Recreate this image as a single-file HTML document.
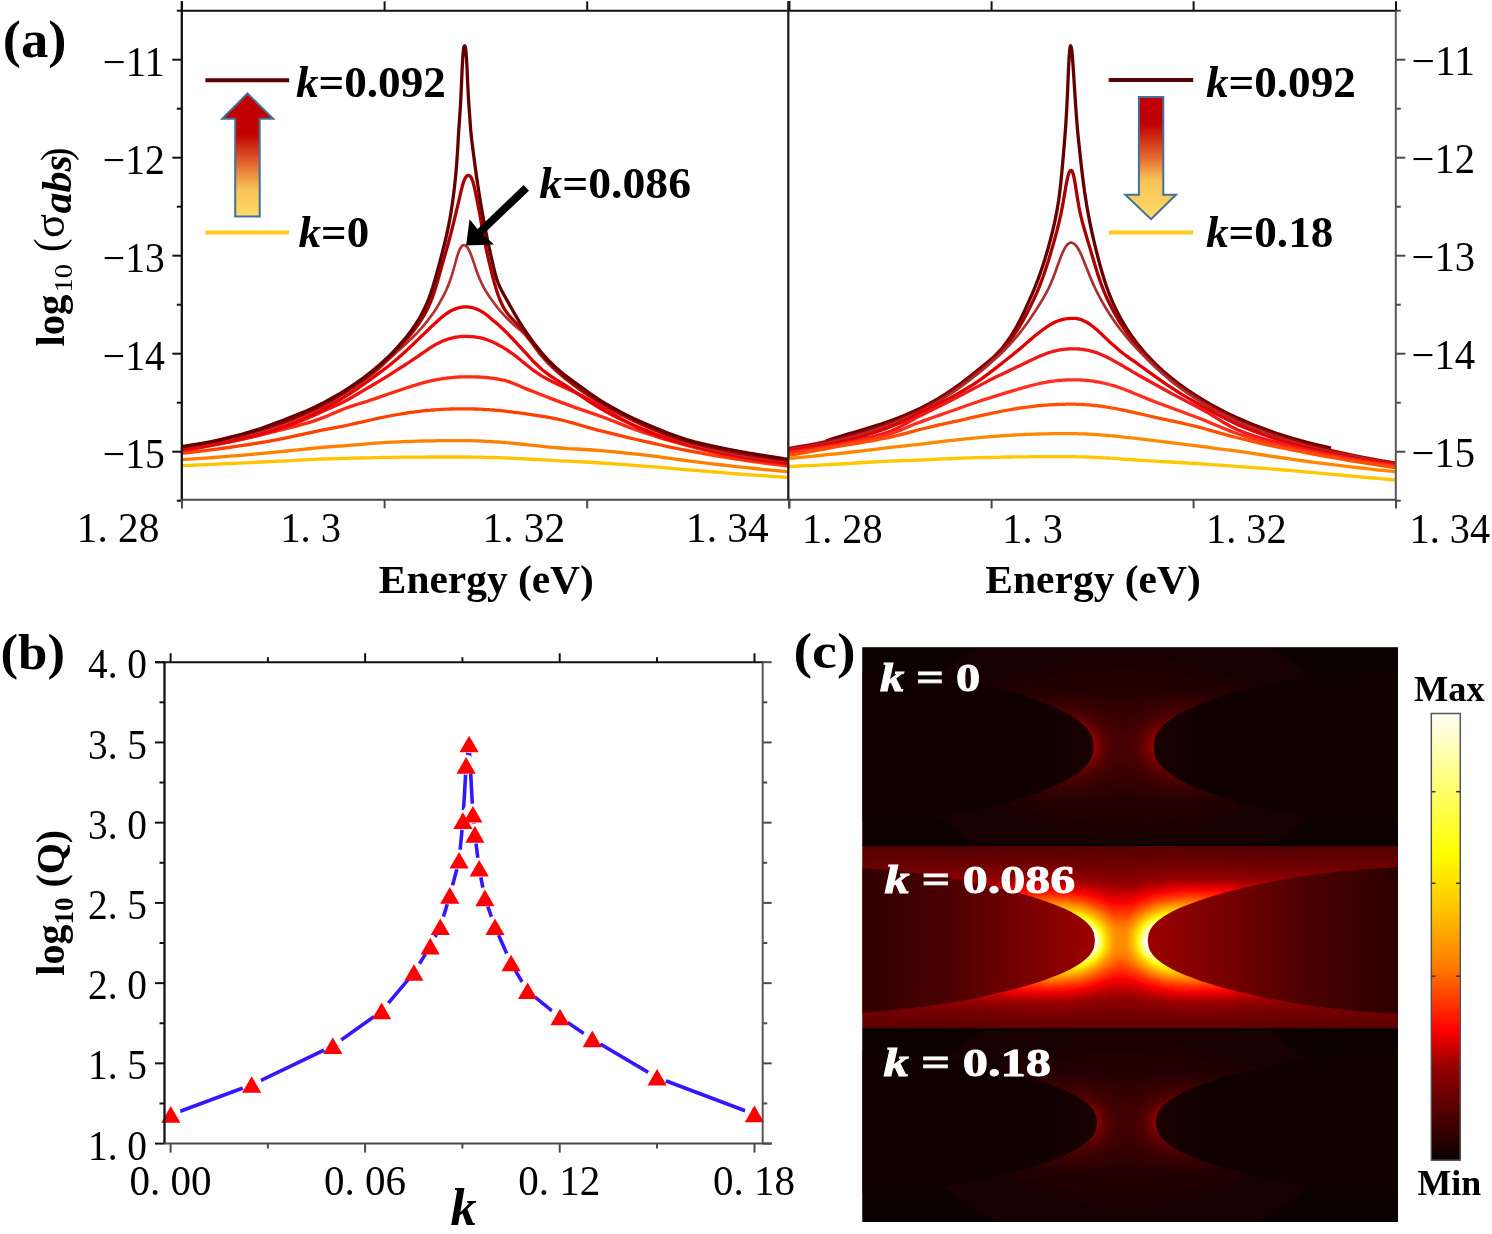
<!DOCTYPE html>
<html><head><meta charset="utf-8"><title>fig</title>
<style>html,body{margin:0;padding:0;background:#fff;width:1492px;height:1234px;overflow:hidden}svg{display:block;will-change:transform}</style>
</head><body>
<svg width="1492" height="1234" viewBox="0 0 1492 1234">
<rect width="1492" height="1234" fill="#fff"/>
<line x1="172.3" y1="59.7" x2="181.8" y2="59.7" stroke="#111" stroke-width="2" />
<line x1="172.3" y1="157.7" x2="181.8" y2="157.7" stroke="#111" stroke-width="2" />
<line x1="172.3" y1="255.7" x2="181.8" y2="255.7" stroke="#111" stroke-width="2" />
<line x1="172.3" y1="353.7" x2="181.8" y2="353.7" stroke="#111" stroke-width="2" />
<line x1="172.3" y1="451.7" x2="181.8" y2="451.7" stroke="#111" stroke-width="2" />
<line x1="176.8" y1="10.7" x2="181.8" y2="10.7" stroke="#111" stroke-width="2" />
<line x1="176.8" y1="108.7" x2="181.8" y2="108.7" stroke="#111" stroke-width="2" />
<line x1="176.8" y1="206.7" x2="181.8" y2="206.7" stroke="#111" stroke-width="2" />
<line x1="176.8" y1="304.7" x2="181.8" y2="304.7" stroke="#111" stroke-width="2" />
<line x1="176.8" y1="402.7" x2="181.8" y2="402.7" stroke="#111" stroke-width="2" />
<line x1="176.8" y1="500.7" x2="181.8" y2="500.7" stroke="#111" stroke-width="2" />
<line x1="1395.8" y1="59.7" x2="1405.3" y2="59.7" stroke="#4a4a4a" stroke-width="2" />
<line x1="1395.8" y1="157.7" x2="1405.3" y2="157.7" stroke="#4a4a4a" stroke-width="2" />
<line x1="1395.8" y1="255.7" x2="1405.3" y2="255.7" stroke="#4a4a4a" stroke-width="2" />
<line x1="1395.8" y1="353.7" x2="1405.3" y2="353.7" stroke="#4a4a4a" stroke-width="2" />
<line x1="1395.8" y1="451.7" x2="1405.3" y2="451.7" stroke="#4a4a4a" stroke-width="2" />
<line x1="1395.8" y1="10.7" x2="1400.8" y2="10.7" stroke="#4a4a4a" stroke-width="2" />
<line x1="1395.8" y1="108.7" x2="1400.8" y2="108.7" stroke="#4a4a4a" stroke-width="2" />
<line x1="1395.8" y1="206.7" x2="1400.8" y2="206.7" stroke="#4a4a4a" stroke-width="2" />
<line x1="1395.8" y1="304.7" x2="1400.8" y2="304.7" stroke="#4a4a4a" stroke-width="2" />
<line x1="1395.8" y1="402.7" x2="1400.8" y2="402.7" stroke="#4a4a4a" stroke-width="2" />
<line x1="1395.8" y1="500.7" x2="1400.8" y2="500.7" stroke="#4a4a4a" stroke-width="2" />
<line x1="182" y1="10.7" x2="182" y2="1.299999999999999" stroke="#111" stroke-width="2" />
<line x1="182" y1="499.8" x2="182" y2="508.40000000000003" stroke="#4a4a4a" stroke-width="2" />
<line x1="384.6" y1="10.7" x2="384.6" y2="1.299999999999999" stroke="#111" stroke-width="2" />
<line x1="384.6" y1="499.8" x2="384.6" y2="508.40000000000003" stroke="#4a4a4a" stroke-width="2" />
<line x1="587.2" y1="10.7" x2="587.2" y2="1.299999999999999" stroke="#111" stroke-width="2" />
<line x1="587.2" y1="499.8" x2="587.2" y2="508.40000000000003" stroke="#4a4a4a" stroke-width="2" />
<line x1="789.0" y1="10.7" x2="789.0" y2="1.299999999999999" stroke="#111" stroke-width="2" />
<line x1="789.0" y1="499.8" x2="789.0" y2="508.40000000000003" stroke="#4a4a4a" stroke-width="2" />
<line x1="789.5" y1="10.7" x2="789.5" y2="1.299999999999999" stroke="#111" stroke-width="2" />
<line x1="789.5" y1="499.8" x2="789.5" y2="508.40000000000003" stroke="#4a4a4a" stroke-width="2" />
<line x1="991.6" y1="10.7" x2="991.6" y2="1.299999999999999" stroke="#111" stroke-width="2" />
<line x1="991.6" y1="499.8" x2="991.6" y2="508.40000000000003" stroke="#4a4a4a" stroke-width="2" />
<line x1="1193.6" y1="10.7" x2="1193.6" y2="1.299999999999999" stroke="#111" stroke-width="2" />
<line x1="1193.6" y1="499.8" x2="1193.6" y2="508.40000000000003" stroke="#4a4a4a" stroke-width="2" />
<line x1="1396.0" y1="10.7" x2="1396.0" y2="1.299999999999999" stroke="#111" stroke-width="2" />
<line x1="1396.0" y1="499.8" x2="1396.0" y2="508.40000000000003" stroke="#4a4a4a" stroke-width="2" />
<g fill="none" stroke-linejoin="round" stroke-linecap="butt">
<clipPath id="clipL"><rect x="182" y="10" width="606" height="490"/></clipPath>
<clipPath id="clipR"><rect x="789" y="10" width="607" height="490"/></clipPath>
<g clip-path="url(#clipL)">
<path d="M182.0,465.6 189.4,465.3 197.5,465.0 205.6,464.6 213.7,464.3 221.8,463.9 229.9,463.5 238.0,463.1 246.1,462.8 254.2,462.4 262.3,462.0 270.4,461.6 278.5,461.2 286.6,460.8 294.7,460.3 302.8,459.9 310.9,459.6 319.0,459.2 327.1,458.9 335.2,458.7 343.3,458.5 351.4,458.2 359.5,458.0 367.6,457.8 375.7,457.6 383.8,457.4 391.9,457.3 400.0,457.2 402.0,457.2 404.0,457.2 406.0,457.2 408.0,457.2 410.0,457.1 412.0,457.1 414.0,457.1 416.0,457.1 418.0,457.1 420.0,457.1 422.0,457.1 424.0,457.1 426.0,457.1 428.0,457.0 430.0,457.0 432.0,457.0 434.0,457.0 436.0,457.0 438.0,457.0 440.0,457.0 442.0,457.0 444.0,457.0 446.0,457.0 448.0,457.0 449.0,457.0 450.0,457.0 451.0,457.0 452.0,457.0 453.0,457.0 454.0,457.0 455.0,457.0 456.0,457.0 457.0,457.0 457.5,457.0 458.0,457.0 458.5,457.0 459.0,457.0 459.5,457.0 460.0,457.0 460.5,457.0 461.0,457.0 461.5,457.0 462.0,457.0 462.5,457.0 463.0,457.0 464.0,457.0 465.0,457.0 466.0,457.0 467.0,457.0 468.0,457.0 469.0,457.0 470.0,457.0 471.0,457.1 472.0,457.1 474.0,457.1 476.0,457.1 478.0,457.2 480.0,457.2 482.0,457.2 484.0,457.3 486.0,457.3 488.0,457.4 490.0,457.4 492.0,457.5 494.0,457.5 496.0,457.6 498.0,457.7 500.0,457.7 502.0,457.8 504.0,457.9 506.0,458.0 508.0,458.1 510.0,458.1 512.0,458.2 514.0,458.3 516.0,458.4 518.0,458.5 520.0,458.6 528.1,459.0 536.2,459.5 544.3,459.9 552.4,460.4 560.5,460.8 568.6,461.2 576.7,461.6 584.8,462.0 592.9,462.5 601.0,463.0 609.1,463.5 617.2,464.1 625.3,464.7 633.4,465.3 641.5,465.9 649.6,466.6 657.7,467.2 665.8,467.9 673.9,468.6 682.0,469.3 690.1,470.0 698.2,470.7 706.3,471.4 714.4,472.0 722.5,472.7 730.6,473.3 738.7,474.0 746.8,474.6 754.9,475.2 763.0,475.7 771.1,476.3 779.2,476.8 787.3,477.3 788.0,477.4" stroke="#ffc300" stroke-width="3.3"/>
<path d="M182.0,459.7 189.4,459.2 197.5,458.7 205.6,458.1 213.7,457.5 221.8,456.9 229.9,456.2 238.0,455.6 246.1,454.9 254.2,454.2 262.3,453.4 270.4,452.7 278.5,451.9 286.6,451.0 294.7,450.1 302.8,449.3 310.9,448.5 319.0,447.7 327.1,447.0 335.2,446.4 343.3,445.8 351.4,445.2 359.5,444.6 367.6,443.9 375.7,443.2 383.8,442.7 391.9,442.2 400.0,441.8 402.0,441.7 404.0,441.6 406.0,441.5 408.0,441.5 410.0,441.4 412.0,441.3 414.0,441.3 416.0,441.2 418.0,441.1 420.0,441.1 422.0,441.0 424.0,441.0 426.0,440.9 428.0,440.9 430.0,440.9 432.0,440.8 434.0,440.8 436.0,440.8 438.0,440.7 440.0,440.7 442.0,440.7 444.0,440.7 446.0,440.7 448.0,440.6 449.0,440.6 450.0,440.6 451.0,440.6 452.0,440.6 453.0,440.6 454.0,440.6 455.0,440.6 456.0,440.6 457.0,440.6 457.5,440.6 458.0,440.6 458.5,440.6 459.0,440.6 459.5,440.6 460.0,440.6 460.5,440.6 461.0,440.6 461.5,440.6 462.0,440.6 462.5,440.6 463.0,440.6 464.0,440.6 465.0,440.6 466.0,440.6 467.0,440.7 468.0,440.7 469.0,440.7 470.0,440.7 471.0,440.7 472.0,440.7 474.0,440.8 476.0,440.9 478.0,440.9 480.0,441.0 482.0,441.1 484.0,441.2 486.0,441.3 488.0,441.4 490.0,441.5 492.0,441.6 494.0,441.8 496.0,441.9 498.0,442.0 500.0,442.2 502.0,442.4 504.0,442.5 506.0,442.7 508.0,442.9 510.0,443.0 512.0,443.2 514.0,443.4 516.0,443.6 518.0,443.8 520.0,444.0 528.1,444.9 536.2,445.7 544.3,446.6 552.4,447.4 560.5,448.0 568.6,448.6 576.7,449.0 584.8,449.5 592.9,450.0 601.0,450.7 609.1,451.4 617.2,452.1 625.3,453.0 633.4,453.8 641.5,454.7 649.6,455.7 657.7,456.7 665.8,457.8 673.9,458.9 682.0,460.0 690.1,461.1 698.2,462.1 706.3,463.1 714.4,464.1 722.5,465.0 730.6,465.9 738.7,466.8 746.8,467.7 754.9,468.5 763.0,469.3 771.1,470.1 779.2,470.9 787.3,471.6 788.0,471.7" stroke="#ff8000" stroke-width="3.3"/>
<path d="M182.0,453.2 184.3,453.0 192.4,452.0 200.5,451.1 208.6,450.1 216.7,449.1 224.8,448.0 232.9,446.9 241.0,445.7 249.1,444.5 257.2,443.2 265.3,441.8 273.4,440.4 281.5,438.8 289.6,437.2 297.7,435.4 305.8,433.6 313.9,431.9 322.0,430.2 330.1,428.7 338.2,427.2 346.3,425.5 354.4,423.7 362.5,421.8 370.6,420.0 378.7,418.2 386.8,416.5 394.9,415.0 403.0,413.6 405.0,413.3 407.0,413.0 409.0,412.7 411.0,412.4 413.0,412.1 415.0,411.9 417.0,411.6 419.0,411.4 421.0,411.1 423.0,410.9 425.0,410.7 427.0,410.5 429.0,410.3 431.0,410.2 433.0,410.0 435.0,409.8 437.0,409.7 439.0,409.6 441.0,409.4 443.0,409.3 445.0,409.2 447.0,409.1 449.0,409.1 451.0,409.0 452.0,409.0 453.0,408.9 454.0,408.9 455.0,408.9 456.0,408.9 457.0,408.8 458.0,408.8 459.0,408.8 460.0,408.8 460.5,408.8 461.0,408.8 461.5,408.8 462.0,408.8 462.5,408.8 463.0,408.8 463.5,408.8 464.0,408.8 464.5,408.8 465.0,408.8 465.5,408.8 466.0,408.8 467.0,408.8 468.0,408.8 469.0,408.8 470.0,408.9 471.0,408.9 472.0,408.9 473.0,408.9 474.0,409.0 475.0,409.0 477.0,409.1 479.0,409.1 481.0,409.2 483.0,409.3 485.0,409.5 487.0,409.6 489.0,409.7 491.0,409.9 493.0,410.0 495.0,410.2 497.0,410.3 499.0,410.5 501.0,410.7 503.0,410.9 505.0,411.1 507.0,411.4 509.0,411.6 511.0,411.8 513.0,412.1 515.0,412.3 517.0,412.6 519.0,412.9 521.0,413.2 523.0,413.4 531.1,414.6 539.2,415.9 547.3,417.2 555.4,418.7 563.5,420.5 571.6,422.7 579.7,425.0 587.8,427.4 595.9,429.6 604.0,431.7 612.1,433.7 620.2,435.7 628.3,437.6 636.4,439.5 644.5,441.4 652.6,443.2 660.7,445.0 668.8,446.8 676.9,448.5 685.0,450.1 693.1,451.7 701.2,453.2 709.3,454.6 717.4,456.0 725.5,457.4 733.6,458.6 741.7,459.9 749.8,461.1 757.9,462.2 766.0,463.3 774.1,464.4 782.2,465.4 788.0,466.1" stroke="#ff4000" stroke-width="3.3"/>
<path d="M182.0,451.0 188.9,449.8 197.0,448.3 205.1,446.7 213.2,445.2 221.3,443.5 229.4,441.9 237.5,440.2 245.6,438.4 253.7,436.6 261.8,434.7 269.9,432.7 278.0,430.7 286.1,428.7 294.2,426.6 302.3,424.4 310.4,422.1 318.5,419.4 326.6,416.3 334.7,412.7 342.8,409.2 350.9,406.4 359.0,403.8 367.1,401.3 375.2,398.6 383.3,395.8 391.4,393.0 399.5,390.2 407.6,387.5 409.6,386.9 411.6,386.2 413.6,385.6 415.6,385.0 417.6,384.4 419.6,383.8 421.6,383.2 423.6,382.7 425.6,382.1 427.6,381.6 429.6,381.2 431.6,380.7 433.6,380.3 435.6,379.9 437.6,379.5 439.6,379.2 441.6,378.8 443.6,378.5 445.6,378.3 447.6,378.0 449.6,377.8 451.6,377.6 453.6,377.4 455.6,377.2 456.6,377.2 457.6,377.1 458.6,377.0 459.6,377.0 460.6,376.9 461.6,376.9 462.6,376.9 463.6,376.8 464.6,376.8 465.1,376.8 465.6,376.8 466.1,376.8 466.6,376.8 467.1,376.8 467.6,376.8 468.1,376.8 468.6,376.8 469.1,376.8 469.6,376.8 470.1,376.8 470.6,376.8 471.6,376.8 472.6,376.8 473.6,376.9 474.6,376.9 475.6,376.9 476.6,377.0 477.6,377.0 478.6,377.0 479.6,377.1 481.6,377.2 483.6,377.3 485.6,377.5 487.6,377.7 489.6,377.9 491.6,378.1 493.6,378.4 495.6,378.7 497.6,379.0 499.6,379.4 501.6,379.8 503.6,380.2 505.6,380.7 507.6,381.3 509.6,381.9 511.6,382.7 513.6,383.4 515.6,384.3 517.6,385.1 519.6,386.0 521.6,386.9 523.6,387.8 525.6,388.6 527.6,389.4 535.7,392.5 543.8,395.7 551.9,398.9 560.0,401.9 568.1,404.9 576.2,407.9 584.3,410.6 592.4,413.4 600.5,416.3 608.6,419.3 616.7,422.5 624.8,425.6 632.9,428.7 641.0,431.6 649.1,434.3 657.2,436.9 665.3,439.4 673.4,441.7 681.5,444.0 689.6,446.2 697.7,448.3 705.8,450.4 713.9,452.5 722.0,454.4 730.1,456.2 738.2,457.9 746.3,459.4 754.4,460.7 762.5,461.9 770.6,462.9 778.7,463.9 786.8,464.8 788.0,464.9" stroke="#ff2a14" stroke-width="3.3"/>
<path d="M182.0,450.0 187.0,449.3 195.1,448.1 203.2,446.8 211.3,445.4 219.4,443.9 227.5,442.3 235.6,440.6 243.7,438.8 251.8,436.9 259.9,434.8 268.0,432.6 276.1,430.2 284.2,427.4 292.3,424.4 300.4,421.2 308.5,417.7 316.6,414.2 324.7,410.6 332.8,407.0 340.9,403.2 349.0,399.0 357.1,394.3 365.2,389.4 373.3,384.7 381.4,379.8 389.5,374.8 397.6,369.7 405.7,364.5 407.7,363.2 409.7,361.9 411.7,360.5 413.7,359.2 415.7,357.8 417.7,356.5 419.7,355.1 421.7,353.7 423.7,352.3 425.7,350.9 427.7,349.5 429.7,348.2 431.7,346.9 433.7,345.6 435.7,344.5 437.7,343.4 439.7,342.4 441.7,341.5 443.7,340.6 445.7,339.9 447.7,339.2 449.7,338.6 451.7,338.1 453.7,337.6 454.7,337.4 455.7,337.2 456.7,337.1 457.7,336.9 458.7,336.8 459.7,336.7 460.7,336.6 461.7,336.5 462.7,336.5 463.2,336.5 463.7,336.4 464.2,336.4 464.7,336.4 465.2,336.4 465.7,336.4 466.2,336.4 466.7,336.4 467.2,336.4 467.7,336.4 468.2,336.4 468.7,336.5 469.7,336.5 470.7,336.6 471.7,336.6 472.7,336.7 473.7,336.8 474.7,336.9 475.7,337.1 476.7,337.2 477.7,337.4 479.7,337.7 481.7,338.2 483.7,338.7 485.7,339.3 487.7,340.0 489.7,340.7 491.7,341.5 493.7,342.5 495.7,343.4 497.7,344.5 499.7,345.6 501.7,346.7 503.7,347.9 505.7,349.2 507.7,350.4 509.7,351.8 511.7,353.2 513.7,354.6 515.7,356.1 517.7,357.7 519.7,359.3 521.7,361.0 523.7,362.6 525.7,364.3 533.8,370.6 541.9,376.1 550.0,380.5 558.1,384.4 566.2,388.2 574.3,391.9 582.4,395.9 590.5,400.4 598.6,405.1 606.7,409.8 614.8,414.7 622.9,419.6 631.0,424.1 639.1,428.2 647.2,431.9 655.3,435.0 663.4,437.8 671.5,440.3 679.6,442.7 687.7,444.9 695.8,447.0 703.9,449.0 712.0,451.0 720.1,452.8 728.2,454.5 736.3,456.1 744.4,457.6 752.5,458.9 760.6,460.1 768.7,461.3 776.8,462.3 784.9,463.3 788.0,463.6" stroke="#f01010" stroke-width="3.3"/>
<path d="M182.0,449.0 187.0,448.3 195.1,447.2 203.2,445.9 211.3,444.5 219.4,443.1 227.5,441.5 235.6,439.8 243.7,437.9 251.8,436.0 259.9,433.8 268.0,431.6 276.1,429.1 284.2,426.3 292.3,423.3 300.4,419.9 308.5,416.2 316.6,412.4 324.7,408.3 332.8,403.9 340.9,399.2 349.0,394.2 357.1,388.8 365.2,383.1 373.3,377.4 381.4,371.4 389.5,365.2 397.6,358.5 405.7,351.3 407.7,349.4 409.7,347.5 411.7,345.6 413.7,343.7 415.7,341.8 417.7,339.9 419.7,337.9 421.7,336.0 423.7,334.1 425.7,332.2 427.7,330.3 429.7,328.3 431.7,326.4 433.7,324.5 435.7,322.7 437.7,320.8 439.7,319.0 441.7,317.3 443.7,315.7 445.7,314.2 447.7,312.8 449.7,311.5 451.7,310.4 453.7,309.5 454.7,309.1 455.7,308.7 456.7,308.3 457.7,308.0 458.7,307.8 459.7,307.5 460.7,307.3 461.7,307.2 462.7,307.1 463.2,307.0 463.7,307.0 464.2,306.9 464.7,306.9 465.2,306.9 465.7,306.9 466.2,306.9 466.7,306.9 467.2,306.9 467.7,307.0 468.2,307.0 468.7,307.1 469.7,307.2 470.7,307.3 471.7,307.5 472.7,307.8 473.7,308.0 474.7,308.3 475.7,308.7 476.7,309.1 477.7,309.5 479.7,310.4 481.7,311.6 483.7,312.8 485.7,314.3 487.7,315.8 489.7,317.5 491.7,319.2 493.7,320.9 495.7,322.6 497.7,324.3 499.7,326.1 501.7,327.9 503.7,329.8 505.7,331.7 507.7,333.7 509.7,335.8 511.7,337.9 513.7,340.0 515.7,342.1 517.7,344.3 519.7,346.5 521.7,348.6 523.7,350.8 525.7,352.9 533.8,361.8 541.9,369.5 550.0,375.6 558.1,380.9 566.2,386.0 574.3,391.3 582.4,396.9 590.5,402.4 598.6,407.4 606.7,412.0 614.8,416.3 622.9,420.3 631.0,424.1 639.1,427.6 647.2,430.9 655.3,434.0 663.4,436.9 671.5,439.6 679.6,442.1 687.7,444.4 695.8,446.5 703.9,448.6 712.0,450.6 720.1,452.4 728.2,454.1 736.3,455.7 744.4,457.1 752.5,458.4 760.6,459.5 768.7,460.5 776.8,461.5 784.9,462.3 788.0,462.6" stroke="#e80000" stroke-width="3.3"/>
<path d="M182.0,448.0 185.1,447.5 193.2,446.1 201.3,444.7 209.4,443.1 217.5,441.5 225.6,439.7 233.7,437.8 241.8,435.9 249.9,433.8 258.0,431.6 266.1,429.2 274.2,426.7 282.3,423.9 290.4,420.9 298.5,417.7 306.6,414.1 314.7,410.4 322.8,406.4 330.9,402.0 339.0,397.2 347.1,392.2 355.2,387.0 363.3,381.5 371.4,375.3 379.5,368.3 387.6,360.6 395.7,353.1 403.8,345.8 405.8,343.9 407.8,342.0 409.8,340.1 411.8,338.2 413.8,336.2 415.8,334.2 417.8,332.1 419.8,329.9 421.8,327.7 423.8,325.3 425.8,322.9 427.8,320.3 429.8,317.7 431.8,315.0 433.8,312.2 435.8,309.2 437.8,305.9 439.8,302.4 441.8,298.8 443.8,295.1 445.8,291.0 447.8,286.4 449.8,281.2 451.8,275.4 452.8,272.2 453.8,268.7 454.8,265.0 455.8,261.3 456.8,257.7 457.8,254.5 458.8,251.7 459.8,249.3 460.8,247.5 461.3,246.8 461.8,246.2 462.3,245.7 462.8,245.4 463.3,245.2 463.8,245.1 464.3,245.1 464.8,245.3 465.3,245.5 465.8,245.9 466.3,246.3 466.8,246.8 467.8,248.1 468.8,249.8 469.8,251.8 470.8,254.2 471.8,256.8 472.8,259.6 473.8,262.6 474.8,265.7 475.8,268.7 477.8,274.3 479.8,279.3 481.8,283.7 483.8,287.6 485.8,291.1 487.8,294.2 489.8,297.2 491.8,300.0 493.8,302.7 495.8,305.4 497.8,308.0 499.8,310.4 501.8,312.7 503.8,314.9 505.8,317.0 507.8,319.0 509.8,321.0 511.8,322.9 513.8,324.7 515.8,326.4 517.8,328.1 519.8,329.7 521.8,331.5 523.8,333.4 531.9,343.4 540.0,354.6 548.1,363.5 556.2,371.2 564.3,378.1 572.4,384.5 580.5,390.4 588.6,395.9 596.7,401.0 604.8,405.8 612.9,410.4 621.0,414.8 629.1,418.9 637.2,422.8 645.3,426.5 653.4,430.0 661.5,433.3 669.6,436.6 677.7,439.6 685.8,442.3 693.9,444.6 702.0,446.8 710.1,448.8 718.2,450.6 726.3,452.3 734.4,453.9 742.5,455.3 750.6,456.6 758.7,457.8 766.8,458.8 774.9,459.8 783.0,460.6 788.0,461.1" stroke="#b43030" stroke-width="2.7"/>
<path d="M182.0,447.3 189.6,446.0 197.7,444.5 205.8,443.0 213.9,441.3 222.0,439.6 230.1,437.7 238.2,435.8 246.3,433.7 254.4,431.5 262.5,429.1 270.6,426.6 278.7,423.9 286.8,421.0 294.9,417.8 303.0,414.3 311.1,410.6 319.2,406.7 327.3,402.5 335.4,397.9 343.5,392.9 351.6,387.7 359.7,382.2 367.8,376.2 375.9,369.6 384.0,362.4 392.1,354.5 400.2,346.2 408.3,337.2 410.3,334.8 412.3,332.4 414.3,329.8 416.3,327.1 418.3,324.3 420.3,321.4 422.3,318.2 424.3,314.8 426.3,311.2 428.3,307.2 430.3,302.7 432.3,297.6 434.3,291.8 436.3,285.5 438.3,278.6 440.3,271.4 442.3,264.2 444.3,257.2 446.3,250.4 448.3,243.2 450.3,235.7 452.3,227.9 454.3,219.8 456.3,211.5 457.3,207.4 458.3,203.1 459.3,198.8 460.3,194.5 461.3,190.2 462.3,186.3 463.3,182.8 464.3,180.0 465.3,177.9 465.8,177.1 466.3,176.5 466.8,176.0 467.3,175.7 467.8,175.5 468.3,175.4 468.8,175.5 469.3,175.6 469.8,176.0 470.3,176.4 470.8,177.0 471.3,177.8 472.3,180.0 473.3,183.1 474.3,187.0 475.3,191.5 476.3,196.4 477.3,201.5 478.3,206.6 479.3,211.7 480.3,217.2 482.3,228.6 484.3,239.6 486.3,249.6 488.3,258.5 490.3,266.9 492.3,275.0 494.3,282.6 496.3,289.4 498.3,295.5 500.3,300.7 502.3,305.1 504.3,308.8 506.3,311.8 508.3,314.5 510.3,316.8 512.3,319.0 514.3,321.1 516.3,323.1 518.3,325.2 520.3,327.3 522.3,329.5 524.3,331.7 526.3,334.1 528.3,336.7 536.4,348.0 544.5,357.8 552.6,366.2 560.7,373.7 568.8,380.4 576.9,386.6 585.0,392.4 593.1,397.7 601.2,402.7 609.3,407.5 617.4,412.0 625.5,416.2 633.6,420.2 641.7,423.9 649.8,427.4 657.9,430.8 666.0,434.0 674.1,437.0 682.2,439.7 690.3,442.1 698.4,444.2 706.5,446.2 714.6,448.0 722.7,449.7 730.8,451.3 738.9,452.9 747.0,454.3 755.1,455.7 763.2,456.9 771.3,458.2 779.4,459.3 787.5,460.4 788.0,460.4" stroke="#a80000" stroke-width="3.3"/>
<path d="M182.0,446.5 185.9,446.0 194.0,444.7 202.1,443.3 210.2,441.8 218.3,440.1 226.4,438.2 234.5,436.2 242.6,434.0 250.7,431.7 258.8,429.2 266.9,426.3 275.0,423.2 283.1,420.2 291.2,417.1 299.3,413.8 307.4,410.4 315.5,406.7 323.6,402.7 331.7,398.3 339.8,393.6 347.9,388.6 356.0,383.2 364.1,377.4 372.2,371.1 380.3,364.3 388.4,356.8 396.5,348.4 404.6,339.1 406.6,336.7 408.6,334.1 410.6,331.5 412.6,328.7 414.6,325.8 416.6,322.7 418.6,319.5 420.6,316.0 422.6,312.3 424.6,308.3 426.6,303.9 428.6,299.0 430.6,293.5 432.6,287.5 434.6,281.0 436.6,274.0 438.6,266.7 440.6,259.1 442.6,251.5 444.6,243.5 446.6,235.0 448.6,225.7 450.6,214.9 452.6,201.7 453.6,194.2 454.6,185.9 455.6,176.3 456.6,165.1 457.6,150.7 458.6,132.5 459.6,118.4 460.6,103.0 461.6,81.3 462.1,69.2 462.6,60.1 463.1,53.0 463.6,48.5 464.1,46.4 464.6,45.8 465.1,46.4 465.6,48.5 466.1,53.0 466.6,60.1 467.1,69.2 467.6,81.6 468.6,100.8 469.6,114.5 470.6,128.8 471.6,138.9 472.6,147.1 473.6,154.7 474.6,162.3 475.6,169.7 476.6,176.9 478.6,190.4 480.6,202.8 482.6,214.2 484.6,225.1 486.6,235.5 488.6,245.2 490.6,254.2 492.6,262.9 494.6,271.5 496.6,278.8 498.6,284.2 500.6,288.6 502.6,292.4 504.6,296.0 506.6,299.5 508.6,303.1 510.6,306.7 512.6,310.3 514.6,313.8 516.6,317.2 518.6,320.5 520.6,323.7 522.6,326.8 524.6,329.8 532.7,341.4 540.8,351.8 548.9,360.8 557.0,368.6 565.1,375.4 573.2,381.4 581.3,387.2 589.4,393.0 597.5,398.6 605.6,403.6 613.7,408.3 621.8,412.6 629.9,416.7 638.0,420.5 646.1,424.1 654.2,427.6 662.3,430.9 670.4,434.0 678.5,436.9 686.6,439.5 694.7,441.8 702.8,443.8 710.9,445.7 719.0,447.4 727.1,449.0 735.2,450.5 743.3,452.0 751.4,453.5 759.5,454.8 767.6,456.1 775.7,457.4 783.8,458.6 788.0,459.1" stroke="#640000" stroke-width="3.3"/>
</g>
<g clip-path="url(#clipR)">
<path d="M826.0,441.0 832.4,438.9 840.5,436.4 848.6,433.9 856.7,431.5 864.8,429.1 872.9,426.6 881.0,424.0 889.1,421.2 897.2,418.2 905.3,415.0 913.4,411.5 921.5,407.7 929.6,403.5 937.7,398.9 945.8,393.9 953.9,388.4 962.0,382.6 970.1,376.4 978.2,369.9 986.3,363.3 994.4,356.4 1002.5,347.8 1010.6,336.6 1012.6,333.4 1014.6,330.0 1016.6,326.5 1018.6,322.8 1020.6,318.9 1022.6,314.9 1024.6,310.7 1026.6,306.4 1028.6,302.0 1030.6,297.5 1032.6,292.9 1034.6,288.1 1036.6,283.1 1038.6,277.8 1040.6,272.3 1042.6,266.4 1044.6,260.1 1046.6,253.5 1048.6,246.5 1050.6,239.0 1052.6,231.2 1054.6,222.5 1056.6,212.7 1058.6,200.7 1059.6,193.4 1060.6,184.8 1061.6,175.0 1062.6,164.0 1063.6,152.4 1064.6,140.6 1065.6,127.6 1066.6,111.2 1067.6,91.1 1068.1,78.8 1068.6,67.1 1069.1,57.7 1069.6,50.9 1070.1,47.0 1070.6,45.8 1071.1,46.6 1071.6,49.0 1072.1,53.2 1072.6,59.2 1073.1,66.2 1073.6,73.8 1074.6,89.6 1075.6,104.5 1076.6,118.5 1077.6,131.0 1078.6,140.8 1079.6,150.0 1080.6,159.2 1081.6,168.2 1082.6,176.7 1084.6,191.9 1086.6,204.8 1088.6,216.0 1090.6,226.1 1092.6,235.3 1094.6,243.9 1096.6,252.0 1098.6,259.9 1100.6,267.3 1102.6,274.3 1104.6,280.8 1106.6,286.8 1108.6,292.3 1110.6,297.4 1112.6,302.1 1114.6,306.5 1116.6,310.6 1118.6,314.5 1120.6,318.2 1122.6,321.8 1124.6,325.1 1126.6,328.4 1128.6,331.4 1130.6,334.4 1138.7,345.4 1146.8,355.0 1154.9,363.4 1163.0,370.9 1171.1,377.7 1179.2,384.0 1187.3,389.8 1195.4,395.1 1203.5,400.1 1211.6,404.9 1219.7,409.3 1227.8,413.4 1235.9,417.3 1244.0,420.8 1252.1,424.2 1260.2,427.4 1268.3,430.4 1276.4,433.3 1284.5,435.9 1292.6,438.4 1300.7,440.7 1308.8,442.8 1316.9,444.8 1325.0,446.7 1331.0,448.0" stroke="#640000" stroke-width="3.3"/>
<path d="M789.0,448.3 792.3,447.8 800.4,446.5 808.5,445.1 816.6,443.6 824.7,441.9 832.8,440.2 840.9,438.3 849.0,436.2 857.1,434.0 865.2,431.5 873.3,428.9 881.4,426.0 889.5,423.1 897.6,420.0 905.7,416.6 913.8,413.0 921.9,409.1 930.0,404.8 938.1,400.1 946.2,395.1 954.3,389.6 962.4,383.8 970.5,377.6 978.6,371.1 986.7,364.6 994.8,357.6 1002.9,349.3 1011.0,339.3 1013.0,336.5 1015.0,333.6 1017.0,330.5 1019.0,327.4 1021.0,324.0 1023.0,320.6 1025.0,317.0 1027.0,313.2 1029.0,309.3 1031.0,305.3 1033.0,301.1 1035.0,296.8 1037.0,292.3 1039.0,287.5 1041.0,282.4 1043.0,277.0 1045.0,271.2 1047.0,265.1 1049.0,258.7 1051.0,252.0 1053.0,245.1 1055.0,238.0 1057.0,230.6 1059.0,222.6 1060.0,218.2 1061.0,213.6 1062.0,208.6 1063.0,203.2 1064.0,197.4 1065.0,191.4 1066.0,185.6 1067.0,180.4 1068.0,176.1 1068.5,174.3 1069.0,172.9 1069.5,171.7 1070.0,170.9 1070.5,170.5 1071.0,170.3 1071.5,170.5 1072.0,171.1 1072.5,172.1 1073.0,173.5 1073.5,175.3 1074.0,177.4 1075.0,182.7 1076.0,188.9 1077.0,195.4 1078.0,201.6 1079.0,207.2 1080.0,212.2 1081.0,216.7 1082.0,220.7 1083.0,224.5 1085.0,231.5 1087.0,238.2 1089.0,244.9 1091.0,251.6 1093.0,258.5 1095.0,265.3 1097.0,271.7 1099.0,277.9 1101.0,283.6 1103.0,288.9 1105.0,293.8 1107.0,298.3 1109.0,302.6 1111.0,306.6 1113.0,310.4 1115.0,314.0 1117.0,317.5 1119.0,320.9 1121.0,324.1 1123.0,327.1 1125.0,330.1 1127.0,333.0 1129.0,335.7 1131.0,338.4 1139.1,348.5 1147.2,357.5 1155.3,365.6 1163.4,373.1 1171.5,379.9 1179.6,386.2 1187.7,392.0 1195.8,397.4 1203.9,402.4 1212.0,407.0 1220.1,411.4 1228.2,415.5 1236.3,419.4 1244.4,422.9 1252.5,426.3 1260.6,429.5 1268.7,432.5 1276.8,435.3 1284.9,438.0 1293.0,440.5 1301.1,442.8 1309.2,445.0 1317.3,447.1 1325.4,449.1 1333.5,451.0 1341.6,452.9 1349.7,454.6 1357.8,456.3 1365.9,457.9 1374.0,459.4 1382.1,460.8 1390.2,462.2 1396.0,463.2" stroke="#a80000" stroke-width="3.3"/>
<path d="M789.0,449.3 792.3,448.8 800.4,447.6 808.5,446.3 816.6,444.9 824.7,443.3 832.8,441.6 840.9,439.8 849.0,437.8 857.1,435.5 865.2,433.1 873.3,430.5 881.4,427.7 889.5,424.7 897.6,421.6 905.7,418.1 913.8,414.5 921.9,410.6 930.0,406.3 938.1,401.7 946.2,396.7 954.3,391.4 962.4,385.6 970.5,379.5 978.6,373.1 986.7,366.4 994.8,359.3 1002.9,351.7 1011.0,343.2 1013.0,341.0 1015.0,338.6 1017.0,336.3 1019.0,333.8 1021.0,331.3 1023.0,328.7 1025.0,326.0 1027.0,323.3 1029.0,320.4 1031.0,317.5 1033.0,314.5 1035.0,311.5 1037.0,308.4 1039.0,305.2 1041.0,302.0 1043.0,298.7 1045.0,295.2 1047.0,291.5 1049.0,287.5 1051.0,283.1 1053.0,278.2 1055.0,272.9 1057.0,267.3 1059.0,261.8 1060.0,259.1 1061.0,256.5 1062.0,254.0 1063.0,251.8 1064.0,249.7 1065.0,247.9 1066.0,246.3 1067.0,245.0 1068.0,244.0 1068.5,243.6 1069.0,243.3 1069.5,243.0 1070.0,242.8 1070.5,242.7 1071.0,242.7 1071.5,242.7 1072.0,242.8 1072.5,243.0 1073.0,243.2 1073.5,243.4 1074.0,243.8 1075.0,244.6 1076.0,245.7 1077.0,246.9 1078.0,248.5 1079.0,250.2 1080.0,252.1 1081.0,254.2 1082.0,256.5 1083.0,258.9 1085.0,263.9 1087.0,269.0 1089.0,274.1 1091.0,279.0 1093.0,283.6 1095.0,288.0 1097.0,292.1 1099.0,296.0 1101.0,299.7 1103.0,303.3 1105.0,306.7 1107.0,310.0 1109.0,313.2 1111.0,316.3 1113.0,319.3 1115.0,322.1 1117.0,324.9 1119.0,327.6 1121.0,330.2 1123.0,332.7 1125.0,335.2 1127.0,337.6 1129.0,340.0 1131.0,342.3 1139.1,351.1 1147.2,359.3 1155.3,367.2 1163.4,374.5 1171.5,381.4 1179.6,387.7 1187.7,393.5 1195.8,398.9 1203.9,403.8 1212.0,408.5 1220.1,412.9 1228.2,417.0 1236.3,420.9 1244.4,424.4 1252.5,427.8 1260.6,431.0 1268.7,434.0 1276.8,436.9 1284.9,439.5 1293.0,442.0 1301.1,444.3 1309.2,446.5 1317.3,448.5 1325.4,450.4 1333.5,452.3 1341.6,454.0 1349.7,455.7 1357.8,457.2 1365.9,458.7 1374.0,460.1 1382.1,461.5 1390.2,462.8 1396.0,463.6" stroke="#a83030" stroke-width="2.7"/>
<path d="M789.0,450.2 794.5,449.6 802.6,448.5 810.7,447.4 818.8,446.0 826.9,444.6 835.0,443.0 843.1,441.3 851.2,439.4 859.3,437.2 867.4,434.8 875.5,432.2 883.6,429.4 891.7,426.3 899.8,422.9 907.9,419.0 916.0,414.9 924.1,411.0 932.2,407.1 940.3,403.1 948.4,398.9 956.5,394.5 964.6,389.8 972.7,384.9 980.8,379.4 988.9,373.4 997.0,367.1 1005.1,360.7 1013.2,354.3 1015.2,352.6 1017.2,351.0 1019.2,349.4 1021.2,347.7 1023.2,346.0 1025.2,344.3 1027.2,342.5 1029.2,340.8 1031.2,339.0 1033.2,337.3 1035.2,335.6 1037.2,334.0 1039.2,332.5 1041.2,331.0 1043.2,329.5 1045.2,328.1 1047.2,326.7 1049.2,325.4 1051.2,324.1 1053.2,323.0 1055.2,322.1 1057.2,321.2 1059.2,320.5 1061.2,319.9 1062.2,319.6 1063.2,319.4 1064.2,319.2 1065.2,319.0 1066.2,318.8 1067.2,318.7 1068.2,318.6 1069.2,318.5 1070.2,318.4 1070.7,318.4 1071.2,318.3 1071.7,318.3 1072.2,318.3 1072.7,318.3 1073.2,318.3 1073.7,318.3 1074.2,318.3 1074.7,318.3 1075.2,318.4 1075.7,318.4 1076.2,318.5 1077.2,318.6 1078.2,318.8 1079.2,319.1 1080.2,319.4 1081.2,319.7 1082.2,320.0 1083.2,320.5 1084.2,320.9 1085.2,321.4 1087.2,322.5 1089.2,323.8 1091.2,325.2 1093.2,326.7 1095.2,328.4 1097.2,330.1 1099.2,331.9 1101.2,333.8 1103.2,335.7 1105.2,337.6 1107.2,339.5 1109.2,341.4 1111.2,343.2 1113.2,345.0 1115.2,346.8 1117.2,348.5 1119.2,350.2 1121.2,351.9 1123.2,353.5 1125.2,355.0 1127.2,356.4 1129.2,357.9 1131.2,359.3 1133.2,360.7 1141.3,366.5 1149.4,372.4 1157.5,378.2 1165.6,383.9 1173.7,389.2 1181.8,394.4 1189.9,399.2 1198.0,403.8 1206.1,408.3 1214.2,412.7 1222.3,417.1 1230.4,421.1 1238.5,424.9 1246.6,428.2 1254.7,431.4 1262.8,434.5 1270.9,437.3 1279.0,440.0 1287.1,442.4 1295.2,444.7 1303.3,446.9 1311.4,448.9 1319.5,450.8 1327.6,452.6 1335.7,454.3 1343.8,455.9 1351.9,457.5 1360.0,459.0 1368.1,460.4 1376.2,461.7 1384.3,462.9 1392.4,464.1 1396.0,464.6" stroke="#e00000" stroke-width="3.3"/>
<path d="M789.0,451.7 794.5,451.1 802.6,450.0 810.7,448.9 818.8,447.7 826.9,446.4 835.0,444.9 843.1,443.4 851.2,441.8 859.3,440.0 867.4,438.1 875.5,435.9 883.6,433.5 891.7,430.7 899.8,426.9 907.9,422.5 916.0,417.9 924.1,413.8 932.2,409.8 940.3,405.8 948.4,401.7 956.5,397.6 964.6,393.4 972.7,389.1 980.8,384.9 988.9,380.6 997.0,376.6 1005.1,372.7 1013.2,368.8 1015.2,367.8 1017.2,366.8 1019.2,365.9 1021.2,364.9 1023.2,363.9 1025.2,363.0 1027.2,362.0 1029.2,361.1 1031.2,360.1 1033.2,359.2 1035.2,358.2 1037.2,357.3 1039.2,356.4 1041.2,355.6 1043.2,354.8 1045.2,354.0 1047.2,353.3 1049.2,352.6 1051.2,352.0 1053.2,351.4 1055.2,350.9 1057.2,350.5 1059.2,350.1 1061.2,349.7 1062.2,349.6 1063.2,349.4 1064.2,349.3 1065.2,349.2 1066.2,349.1 1067.2,349.0 1068.2,349.0 1069.2,348.9 1070.2,348.9 1070.7,348.8 1071.2,348.8 1071.7,348.8 1072.2,348.8 1072.7,348.8 1073.2,348.8 1073.7,348.8 1074.2,348.8 1074.7,348.8 1075.2,348.8 1075.7,348.8 1076.2,348.9 1077.2,348.9 1078.2,349.0 1079.2,349.0 1080.2,349.1 1081.2,349.2 1082.2,349.4 1083.2,349.5 1084.2,349.6 1085.2,349.8 1087.2,350.2 1089.2,350.6 1091.2,351.1 1093.2,351.6 1095.2,352.3 1097.2,352.9 1099.2,353.7 1101.2,354.5 1103.2,355.4 1105.2,356.3 1107.2,357.3 1109.2,358.3 1111.2,359.4 1113.2,360.5 1115.2,361.6 1117.2,362.7 1119.2,363.9 1121.2,365.0 1123.2,366.2 1125.2,367.4 1127.2,368.5 1129.2,369.7 1131.2,370.9 1133.2,372.1 1141.3,376.7 1149.4,381.3 1157.5,385.8 1165.6,390.2 1173.7,394.6 1181.8,398.9 1189.9,403.1 1198.0,407.3 1206.1,411.7 1214.2,416.7 1222.3,421.7 1230.4,426.3 1238.5,430.2 1246.6,433.3 1254.7,436.1 1262.8,438.5 1270.9,440.8 1279.0,442.9 1287.1,444.9 1295.2,446.9 1303.3,448.8 1311.4,450.6 1319.5,452.3 1327.6,454.0 1335.7,455.6 1343.8,457.1 1351.9,458.6 1360.0,460.0 1368.1,461.3 1376.2,462.7 1384.3,463.9 1392.4,465.1 1396.0,465.6" stroke="#f01818" stroke-width="3.3"/>
<path d="M789.0,453.3 794.5,452.5 802.6,451.3 810.7,450.1 818.8,448.7 826.9,447.4 835.0,445.9 843.1,444.4 851.2,442.9 859.3,441.3 867.4,439.6 875.5,437.8 883.6,435.7 891.7,433.4 899.8,430.4 907.9,427.0 916.0,423.6 924.1,420.6 932.2,417.8 940.3,414.9 948.4,412.0 956.5,409.2 964.6,406.3 972.7,403.5 980.8,400.7 988.9,398.2 997.0,395.7 1005.1,393.2 1013.2,390.7 1015.2,390.1 1017.2,389.5 1019.2,388.9 1021.2,388.3 1023.2,387.7 1025.2,387.1 1027.2,386.6 1029.2,386.0 1031.2,385.5 1033.2,385.0 1035.2,384.5 1037.2,384.0 1039.2,383.6 1041.2,383.2 1043.2,382.8 1045.2,382.4 1047.2,382.0 1049.2,381.7 1051.2,381.4 1053.2,381.1 1055.2,380.9 1057.2,380.7 1059.2,380.5 1061.2,380.3 1062.2,380.2 1063.2,380.1 1064.2,380.1 1065.2,380.0 1066.2,380.0 1067.2,379.9 1068.2,379.9 1069.2,379.9 1070.2,379.8 1070.7,379.8 1071.2,379.8 1071.7,379.8 1072.2,379.8 1072.7,379.8 1073.2,379.8 1073.7,379.8 1074.2,379.8 1074.7,379.8 1075.2,379.8 1075.7,379.8 1076.2,379.8 1077.2,379.9 1078.2,379.9 1079.2,379.9 1080.2,380.0 1081.2,380.0 1082.2,380.1 1083.2,380.1 1084.2,380.2 1085.2,380.3 1087.2,380.5 1089.2,380.7 1091.2,380.9 1093.2,381.2 1095.2,381.5 1097.2,381.8 1099.2,382.2 1101.2,382.6 1103.2,383.0 1105.2,383.5 1107.2,383.9 1109.2,384.5 1111.2,385.0 1113.2,385.6 1115.2,386.2 1117.2,386.8 1119.2,387.5 1121.2,388.2 1123.2,389.0 1125.2,389.7 1127.2,390.5 1129.2,391.3 1131.2,392.1 1133.2,393.0 1141.3,396.3 1149.4,399.6 1157.5,402.8 1165.6,405.8 1173.7,408.8 1181.8,411.7 1189.9,414.7 1198.0,417.7 1206.1,420.9 1214.2,424.4 1222.3,427.8 1230.4,431.1 1238.5,434.0 1246.6,436.6 1254.7,439.0 1262.8,441.2 1270.9,443.3 1279.0,445.3 1287.1,447.1 1295.2,449.0 1303.3,450.7 1311.4,452.4 1319.5,454.0 1327.6,455.6 1335.7,457.0 1343.8,458.5 1351.9,459.9 1360.0,461.2 1368.1,462.5 1376.2,463.8 1384.3,465.0 1392.4,466.1 1396.0,466.6" stroke="#ff3020" stroke-width="3.3"/>
<path d="M789.0,455.4 792.3,454.8 800.4,453.3 808.5,451.9 816.6,450.4 824.7,449.0 832.8,447.5 840.9,446.0 849.0,444.6 857.1,443.3 865.2,441.9 873.3,440.5 881.4,439.0 889.5,437.3 897.6,435.4 905.7,433.3 913.8,431.1 921.9,429.0 930.0,427.1 938.1,425.2 946.2,423.4 954.3,421.6 962.4,419.8 970.5,417.9 978.6,416.1 986.7,414.3 994.8,412.6 1002.9,411.0 1011.0,409.5 1013.0,409.2 1015.0,408.8 1017.0,408.5 1019.0,408.2 1021.0,407.9 1023.0,407.6 1025.0,407.3 1027.0,407.1 1029.0,406.8 1031.0,406.6 1033.0,406.4 1035.0,406.1 1037.0,405.9 1039.0,405.7 1041.0,405.5 1043.0,405.4 1045.0,405.2 1047.0,405.1 1049.0,404.9 1051.0,404.8 1053.0,404.7 1055.0,404.6 1057.0,404.5 1059.0,404.4 1060.0,404.4 1061.0,404.3 1062.0,404.3 1063.0,404.3 1064.0,404.3 1065.0,404.3 1066.0,404.2 1067.0,404.2 1068.0,404.2 1068.5,404.2 1069.0,404.2 1069.5,404.2 1070.0,404.2 1070.5,404.2 1071.0,404.2 1071.5,404.2 1072.0,404.2 1072.5,404.2 1073.0,404.2 1073.5,404.2 1074.0,404.2 1075.0,404.2 1076.0,404.3 1077.0,404.3 1078.0,404.3 1079.0,404.3 1080.0,404.4 1081.0,404.4 1082.0,404.5 1083.0,404.5 1085.0,404.6 1087.0,404.8 1089.0,404.9 1091.0,405.1 1093.0,405.3 1095.0,405.5 1097.0,405.7 1099.0,406.0 1101.0,406.2 1103.0,406.5 1105.0,406.8 1107.0,407.1 1109.0,407.4 1111.0,407.8 1113.0,408.1 1115.0,408.5 1117.0,408.9 1119.0,409.3 1121.0,409.7 1123.0,410.1 1125.0,410.5 1127.0,410.9 1129.0,411.4 1131.0,411.8 1139.1,413.7 1147.2,415.5 1155.3,417.4 1163.4,419.1 1171.5,420.9 1179.6,422.7 1187.7,424.5 1195.8,426.4 1203.9,428.5 1212.0,430.8 1220.1,433.1 1228.2,435.3 1236.3,437.5 1244.4,439.5 1252.5,441.4 1260.6,443.3 1268.7,445.1 1276.8,446.8 1284.9,448.5 1293.0,450.1 1301.1,451.7 1309.2,453.3 1317.3,454.8 1325.4,456.3 1333.5,457.7 1341.6,459.1 1349.7,460.5 1357.8,461.8 1365.9,463.1 1374.0,464.4 1382.1,465.7 1390.2,466.9 1396.0,467.7" stroke="#ff5000" stroke-width="3.3"/>
<path d="M789.0,458.5 795.4,457.9 803.5,457.1 811.6,456.4 819.7,455.5 827.8,454.7 835.9,453.8 844.0,453.0 852.1,452.0 860.2,451.1 868.3,450.1 876.4,449.1 884.5,448.1 892.6,447.2 900.7,446.3 908.8,445.4 916.9,444.6 925.0,443.6 933.1,442.6 941.2,441.7 949.3,440.7 957.4,439.8 965.5,438.9 973.6,438.1 981.7,437.4 989.8,436.7 997.9,436.1 1006.0,435.5 1008.0,435.4 1010.0,435.3 1012.0,435.2 1014.0,435.0 1016.0,434.9 1018.0,434.8 1020.0,434.7 1022.0,434.6 1024.0,434.5 1026.0,434.5 1028.0,434.4 1030.0,434.3 1032.0,434.2 1034.0,434.1 1036.0,434.1 1038.0,434.0 1040.0,434.0 1042.0,433.9 1044.0,433.9 1046.0,433.8 1048.0,433.8 1050.0,433.7 1052.0,433.7 1054.0,433.7 1055.0,433.7 1056.0,433.7 1057.0,433.6 1058.0,433.6 1059.0,433.6 1060.0,433.6 1061.0,433.6 1062.0,433.6 1063.0,433.6 1063.5,433.6 1064.0,433.6 1064.5,433.6 1065.0,433.6 1065.5,433.6 1066.0,433.6 1066.5,433.6 1067.0,433.6 1067.5,433.6 1068.0,433.6 1068.5,433.6 1069.0,433.6 1070.0,433.6 1071.0,433.6 1072.0,433.6 1073.0,433.7 1074.0,433.7 1075.0,433.7 1076.0,433.7 1077.0,433.7 1078.0,433.8 1080.0,433.8 1082.0,433.9 1084.0,433.9 1086.0,434.0 1088.0,434.1 1090.0,434.2 1092.0,434.3 1094.0,434.4 1096.0,434.6 1098.0,434.7 1100.0,434.8 1102.0,435.0 1104.0,435.1 1106.0,435.3 1108.0,435.5 1110.0,435.7 1112.0,435.8 1114.0,436.0 1116.0,436.2 1118.0,436.4 1120.0,436.6 1122.0,436.8 1124.0,437.1 1126.0,437.3 1134.1,438.2 1142.2,439.2 1150.3,440.1 1158.4,441.1 1166.5,442.1 1174.6,443.1 1182.7,444.1 1190.8,445.1 1198.9,446.2 1207.0,447.2 1215.1,448.3 1223.2,449.3 1231.3,450.3 1239.4,451.4 1247.5,452.6 1255.6,453.8 1263.7,455.0 1271.8,456.3 1279.9,457.5 1288.0,458.7 1296.1,459.9 1304.2,461.0 1312.3,462.1 1320.4,463.1 1328.5,464.1 1336.6,465.1 1344.7,466.1 1352.8,467.1 1360.9,468.0 1369.0,468.9 1377.1,469.8 1385.2,470.6 1393.3,471.4 1396.0,471.7" stroke="#ff8800" stroke-width="3.3"/>
<path d="M789.0,466.5 791.4,466.4 799.5,466.0 807.6,465.7 815.7,465.3 823.8,464.9 831.9,464.4 840.0,464.0 848.1,463.5 856.2,463.0 864.3,462.5 872.4,462.0 880.5,461.6 888.6,461.2 896.7,460.8 904.8,460.5 912.9,460.3 921.0,460.0 929.1,459.6 937.2,459.2 945.3,458.9 953.4,458.5 961.5,458.2 969.6,457.9 977.7,457.7 985.8,457.5 993.9,457.3 1002.0,457.1 1004.0,457.1 1006.0,457.0 1008.0,457.0 1010.0,457.0 1012.0,457.0 1014.0,456.9 1016.0,456.9 1018.0,456.9 1020.0,456.8 1022.0,456.8 1024.0,456.8 1026.0,456.8 1028.0,456.8 1030.0,456.7 1032.0,456.7 1034.0,456.7 1036.0,456.7 1038.0,456.7 1040.0,456.7 1042.0,456.7 1044.0,456.6 1046.0,456.6 1048.0,456.6 1050.0,456.6 1051.0,456.6 1052.0,456.6 1053.0,456.6 1054.0,456.6 1055.0,456.6 1056.0,456.6 1057.0,456.6 1058.0,456.6 1059.0,456.6 1059.5,456.6 1060.0,456.6 1060.5,456.6 1061.0,456.6 1061.5,456.6 1062.0,456.6 1062.5,456.6 1063.0,456.6 1063.5,456.6 1064.0,456.6 1064.5,456.6 1065.0,456.6 1066.0,456.6 1067.0,456.6 1068.0,456.6 1069.0,456.6 1070.0,456.6 1071.0,456.7 1072.0,456.7 1073.0,456.7 1074.0,456.7 1076.0,456.7 1078.0,456.8 1080.0,456.8 1082.0,456.9 1084.0,456.9 1086.0,457.0 1088.0,457.1 1090.0,457.1 1092.0,457.2 1094.0,457.3 1096.0,457.4 1098.0,457.5 1100.0,457.6 1102.0,457.7 1104.0,457.8 1106.0,457.9 1108.0,458.0 1110.0,458.2 1112.0,458.3 1114.0,458.4 1116.0,458.5 1118.0,458.7 1120.0,458.8 1122.0,459.0 1130.1,459.5 1138.2,460.1 1146.3,460.6 1154.4,461.1 1162.5,461.6 1170.6,462.0 1178.7,462.5 1186.8,463.0 1194.9,463.5 1203.0,464.0 1211.1,464.6 1219.2,465.1 1227.3,465.7 1235.4,466.3 1243.5,466.9 1251.6,467.5 1259.7,468.1 1267.8,468.7 1275.9,469.4 1284.0,470.0 1292.1,470.7 1300.2,471.4 1308.3,472.1 1316.4,472.8 1324.5,473.6 1332.6,474.3 1340.7,475.0 1348.8,475.8 1356.9,476.5 1365.0,477.3 1373.1,478.0 1381.2,478.7 1389.3,479.5 1396.0,480.1" stroke="#ffc800" stroke-width="3.3"/>
</g></g>
<line x1="181.8" y1="1.299999999999999" x2="181.8" y2="499.8" stroke="#111" stroke-width="2.3" />
<line x1="181.8" y1="10.7" x2="1395.8" y2="10.7" stroke="#111" stroke-width="2" />
<line x1="181.8" y1="499.8" x2="788.3" y2="499.8" stroke="#4a4a4a" stroke-width="2" />
<line x1="788.3" y1="499.8" x2="1395.8" y2="499.8" stroke="#4a4a4a" stroke-width="2" />
<line x1="788.3" y1="1.299999999999999" x2="788.3" y2="499.8" stroke="#222" stroke-width="2.3" />
<line x1="1395.8" y1="10.7" x2="1395.8" y2="499.8" stroke="#555" stroke-width="2" />
<text x="164.8" y="76.0" font-family='"Liberation Serif", serif' font-size="42" font-weight="normal" font-style="normal" fill="#000" text-anchor="end" textLength="62" lengthAdjust="spacingAndGlyphs" >&#8722;11</text>
<text x="1411.5" y="75.0" font-family='"Liberation Serif", serif' font-size="42" font-weight="normal" font-style="normal" fill="#000" text-anchor="start" textLength="63.5" lengthAdjust="spacingAndGlyphs" >&#8722;11</text>
<text x="164.8" y="174.0" font-family='"Liberation Serif", serif' font-size="42" font-weight="normal" font-style="normal" fill="#000" text-anchor="end" textLength="62" lengthAdjust="spacingAndGlyphs" >&#8722;12</text>
<text x="1411.5" y="173.0" font-family='"Liberation Serif", serif' font-size="42" font-weight="normal" font-style="normal" fill="#000" text-anchor="start" textLength="63.5" lengthAdjust="spacingAndGlyphs" >&#8722;12</text>
<text x="164.8" y="272.0" font-family='"Liberation Serif", serif' font-size="42" font-weight="normal" font-style="normal" fill="#000" text-anchor="end" textLength="62" lengthAdjust="spacingAndGlyphs" >&#8722;13</text>
<text x="1411.5" y="271.0" font-family='"Liberation Serif", serif' font-size="42" font-weight="normal" font-style="normal" fill="#000" text-anchor="start" textLength="63.5" lengthAdjust="spacingAndGlyphs" >&#8722;13</text>
<text x="164.8" y="370.0" font-family='"Liberation Serif", serif' font-size="42" font-weight="normal" font-style="normal" fill="#000" text-anchor="end" textLength="62" lengthAdjust="spacingAndGlyphs" >&#8722;14</text>
<text x="1411.5" y="369.0" font-family='"Liberation Serif", serif' font-size="42" font-weight="normal" font-style="normal" fill="#000" text-anchor="start" textLength="63.5" lengthAdjust="spacingAndGlyphs" >&#8722;14</text>
<text x="164.8" y="468.0" font-family='"Liberation Serif", serif' font-size="42" font-weight="normal" font-style="normal" fill="#000" text-anchor="end" textLength="62" lengthAdjust="spacingAndGlyphs" >&#8722;15</text>
<text x="1411.5" y="467.0" font-family='"Liberation Serif", serif' font-size="42" font-weight="normal" font-style="normal" fill="#000" text-anchor="start" textLength="63.5" lengthAdjust="spacingAndGlyphs" >&#8722;15</text>
<text x="76.8" y="542.2" font-family='"Liberation Serif", serif' font-size="42" font-weight="normal" font-style="normal" fill="#000" text-anchor="start" textLength="82.5" lengthAdjust="spacingAndGlyphs" >1. 28</text>
<text x="280.2" y="542.2" font-family='"Liberation Serif", serif' font-size="42" font-weight="normal" font-style="normal" fill="#000" text-anchor="start" textLength="61" lengthAdjust="spacingAndGlyphs" >1. 3</text>
<text x="482.6" y="542.2" font-family='"Liberation Serif", serif' font-size="42" font-weight="normal" font-style="normal" fill="#000" text-anchor="start" textLength="82.5" lengthAdjust="spacingAndGlyphs" >1. 32</text>
<text x="686.0" y="542.2" font-family='"Liberation Serif", serif' font-size="42" font-weight="normal" font-style="normal" fill="#000" text-anchor="start" textLength="82.5" lengthAdjust="spacingAndGlyphs" >1. 34</text>
<text x="802.1" y="543.0" font-family='"Liberation Serif", serif' font-size="42" font-weight="normal" font-style="normal" fill="#000" text-anchor="start" textLength="80.5" lengthAdjust="spacingAndGlyphs" >1. 28</text>
<text x="1002.3" y="543.0" font-family='"Liberation Serif", serif' font-size="42" font-weight="normal" font-style="normal" fill="#000" text-anchor="start" textLength="60.5" lengthAdjust="spacingAndGlyphs" >1. 3</text>
<text x="1206.0" y="543.0" font-family='"Liberation Serif", serif' font-size="42" font-weight="normal" font-style="normal" fill="#000" text-anchor="start" textLength="80.5" lengthAdjust="spacingAndGlyphs" >1. 32</text>
<text x="1409.6" y="543.0" font-family='"Liberation Serif", serif' font-size="42" font-weight="normal" font-style="normal" fill="#000" text-anchor="start" textLength="80.5" lengthAdjust="spacingAndGlyphs" >1. 34</text>
<text x="378.8" y="593.0" font-family='"Liberation Serif", serif' font-size="41" font-weight="bold" font-style="normal" fill="#000" text-anchor="start" textLength="215" lengthAdjust="spacingAndGlyphs" >Energy (eV)</text>
<text x="985.3" y="593.0" font-family='"Liberation Serif", serif' font-size="41" font-weight="bold" font-style="normal" fill="#000" text-anchor="start" textLength="215.5" lengthAdjust="spacingAndGlyphs" >Energy (eV)</text>
<text x="2.8" y="57.0" font-family='"Liberation Serif", serif' font-size="52" font-weight="bold" font-style="normal" fill="#000" text-anchor="start" textLength="63.8" lengthAdjust="spacingAndGlyphs" >(a)</text>
<text transform="translate(63.5,346.6) rotate(-90)" font-family='"Liberation Serif", serif' font-size="40" font-weight="bold" font-style="normal" fill="#000" textLength="52" lengthAdjust="spacingAndGlyphs">log</text>
<text transform="translate(71.6,292.6) rotate(-90)" font-family='"Liberation Serif", serif' font-size="26" font-weight="normal" font-style="normal" fill="#000" textLength="28.5" lengthAdjust="spacingAndGlyphs">10</text>
<text transform="translate(63.0,252.0) rotate(-90)" font-family='"Liberation Serif", serif' font-size="42" font-weight="normal" font-style="normal" fill="#000" textLength="13.5" lengthAdjust="spacingAndGlyphs">(</text>
<text transform="translate(64.0,238.0) rotate(-90)" font-family='"Liberation Serif", serif' font-size="44" font-weight="normal" font-style="normal" fill="#000" textLength="24.0" lengthAdjust="spacingAndGlyphs">σ</text>
<text transform="translate(70.8,213.5) rotate(-90)" font-family='"Liberation Serif", serif' font-size="42" font-weight="bold" font-style="italic" fill="#000" textLength="58.5" lengthAdjust="spacingAndGlyphs">abs</text>
<text transform="translate(70.0,161.0) rotate(-90)" font-family='"Liberation Serif", serif' font-size="42" font-weight="normal" font-style="normal" fill="#000" textLength="13.5" lengthAdjust="spacingAndGlyphs">)</text>
<line x1="205.4" y1="80.2" x2="289.2" y2="80.2" stroke="#5a0000" stroke-width="4" />
<line x1="205.4" y1="232.4" x2="289.2" y2="232.4" stroke="#ffc81e" stroke-width="4" />
<text x="295.9" y="97.4" font-family='"Liberation Serif", serif' font-size="45" font-weight="bold" textLength="150" lengthAdjust="spacingAndGlyphs"><tspan font-style="italic">k</tspan>=0.092</text>
<text x="298.6" y="247.2" font-family='"Liberation Serif", serif' font-size="45" font-weight="bold" textLength="70.6" lengthAdjust="spacingAndGlyphs"><tspan font-style="italic">k</tspan>=0</text>
<line x1="1108.7" y1="79.9" x2="1193.2" y2="79.9" stroke="#5a0000" stroke-width="4" />
<line x1="1108.7" y1="232.4" x2="1193.2" y2="232.4" stroke="#ffc81e" stroke-width="4" />
<text x="1205.9" y="97.4" font-family='"Liberation Serif", serif' font-size="45" font-weight="bold" textLength="150" lengthAdjust="spacingAndGlyphs"><tspan font-style="italic">k</tspan>=0.092</text>
<text x="1205.9" y="247.2" font-family='"Liberation Serif", serif' font-size="45" font-weight="bold" textLength="127.5" lengthAdjust="spacingAndGlyphs"><tspan font-style="italic">k</tspan>=0.18</text>
<text x="539.3" y="198.4" font-family='"Liberation Serif", serif' font-size="45" font-weight="bold" textLength="151.7" lengthAdjust="spacingAndGlyphs"><tspan font-style="italic">k</tspan>=0.086</text>
<line x1="526.3" y1="187.9" x2="478" y2="234" stroke="#000" stroke-width="7.8" />
<path d="M466.1,245.4 L469.6,219.3 L480,232 L494,244.6 Z" fill="#000"/>
<defs>
<linearGradient id="gUp" x1="0" y1="0" x2="0" y2="1">
 <stop offset="0" stop-color="#c00000"/><stop offset="0.33" stop-color="#c00000"/>
 <stop offset="0.58" stop-color="#e36c30"/><stop offset="0.78" stop-color="#f9c458"/><stop offset="1" stop-color="#ffd966"/>
</linearGradient>
<linearGradient id="gDn" x1="0" y1="0" x2="0" y2="1">
 <stop offset="0" stop-color="#c00000"/><stop offset="0.22" stop-color="#c00000"/>
 <stop offset="0.50" stop-color="#e36c30"/><stop offset="0.68" stop-color="#f9c458"/><stop offset="1" stop-color="#ffd966"/>
</linearGradient>
</defs>
<path d="M247.5,93.4 L273.2,118.8 L259.7,118.8 L259.7,216.5 L235.2,216.5 L235.2,118.8 L222.2,118.8 Z" fill="url(#gUp)" stroke="#41719c" stroke-width="2"/>
<path d="M1151,219.2 L1176,194.8 L1163.3,194.8 L1163.3,97 L1138.9,97 L1138.9,194.8 L1125.3,194.8 Z" fill="url(#gDn)" stroke="#41719c" stroke-width="2"/>
<line x1="155.0" y1="1143.6" x2="164.5" y2="1143.6" stroke="#111" stroke-width="2" />
<line x1="762.7" y1="1143.6" x2="771.7" y2="1143.6" stroke="#4a4a4a" stroke-width="2" />
<line x1="159.5" y1="1103.4824999999998" x2="164.5" y2="1103.4824999999998" stroke="#111" stroke-width="2" />
<line x1="762.7" y1="1103.4824999999998" x2="767.2" y2="1103.4824999999998" stroke="#4a4a4a" stroke-width="2" />
<line x1="155.0" y1="1063.365" x2="164.5" y2="1063.365" stroke="#111" stroke-width="2" />
<line x1="762.7" y1="1063.365" x2="771.7" y2="1063.365" stroke="#4a4a4a" stroke-width="2" />
<line x1="159.5" y1="1023.2475" x2="164.5" y2="1023.2475" stroke="#111" stroke-width="2" />
<line x1="762.7" y1="1023.2475" x2="767.2" y2="1023.2475" stroke="#4a4a4a" stroke-width="2" />
<line x1="155.0" y1="983.1299999999999" x2="164.5" y2="983.1299999999999" stroke="#111" stroke-width="2" />
<line x1="762.7" y1="983.1299999999999" x2="771.7" y2="983.1299999999999" stroke="#4a4a4a" stroke-width="2" />
<line x1="159.5" y1="943.0124999999999" x2="164.5" y2="943.0124999999999" stroke="#111" stroke-width="2" />
<line x1="762.7" y1="943.0124999999999" x2="767.2" y2="943.0124999999999" stroke="#4a4a4a" stroke-width="2" />
<line x1="155.0" y1="902.895" x2="164.5" y2="902.895" stroke="#111" stroke-width="2" />
<line x1="762.7" y1="902.895" x2="771.7" y2="902.895" stroke="#4a4a4a" stroke-width="2" />
<line x1="159.5" y1="862.7774999999999" x2="164.5" y2="862.7774999999999" stroke="#111" stroke-width="2" />
<line x1="762.7" y1="862.7774999999999" x2="767.2" y2="862.7774999999999" stroke="#4a4a4a" stroke-width="2" />
<line x1="155.0" y1="822.6599999999999" x2="164.5" y2="822.6599999999999" stroke="#111" stroke-width="2" />
<line x1="762.7" y1="822.6599999999999" x2="771.7" y2="822.6599999999999" stroke="#4a4a4a" stroke-width="2" />
<line x1="159.5" y1="782.5424999999999" x2="164.5" y2="782.5424999999999" stroke="#111" stroke-width="2" />
<line x1="762.7" y1="782.5424999999999" x2="767.2" y2="782.5424999999999" stroke="#4a4a4a" stroke-width="2" />
<line x1="155.0" y1="742.425" x2="164.5" y2="742.425" stroke="#111" stroke-width="2" />
<line x1="762.7" y1="742.425" x2="771.7" y2="742.425" stroke="#4a4a4a" stroke-width="2" />
<line x1="159.5" y1="702.3074999999999" x2="164.5" y2="702.3074999999999" stroke="#111" stroke-width="2" />
<line x1="762.7" y1="702.3074999999999" x2="767.2" y2="702.3074999999999" stroke="#4a4a4a" stroke-width="2" />
<line x1="155.0" y1="662.1899999999999" x2="164.5" y2="662.1899999999999" stroke="#111" stroke-width="2" />
<line x1="762.7" y1="662.1899999999999" x2="771.7" y2="662.1899999999999" stroke="#4a4a4a" stroke-width="2" />
<line x1="170.6" y1="662.2" x2="170.6" y2="653.2" stroke="#111" stroke-width="2" />
<line x1="170.6" y1="1143.6" x2="170.6" y2="1152.6" stroke="#4a4a4a" stroke-width="2" />
<line x1="267.9" y1="662.2" x2="267.9" y2="657.2" stroke="#111" stroke-width="2" />
<line x1="267.9" y1="1143.6" x2="267.9" y2="1148.6" stroke="#4a4a4a" stroke-width="2" />
<line x1="365.1" y1="662.2" x2="365.1" y2="653.2" stroke="#111" stroke-width="2" />
<line x1="365.1" y1="1143.6" x2="365.1" y2="1152.6" stroke="#4a4a4a" stroke-width="2" />
<line x1="462.4" y1="662.2" x2="462.4" y2="657.2" stroke="#111" stroke-width="2" />
<line x1="462.4" y1="1143.6" x2="462.4" y2="1148.6" stroke="#4a4a4a" stroke-width="2" />
<line x1="559.7" y1="662.2" x2="559.7" y2="653.2" stroke="#111" stroke-width="2" />
<line x1="559.7" y1="1143.6" x2="559.7" y2="1152.6" stroke="#4a4a4a" stroke-width="2" />
<line x1="657.0" y1="662.2" x2="657.0" y2="657.2" stroke="#111" stroke-width="2" />
<line x1="657.0" y1="1143.6" x2="657.0" y2="1148.6" stroke="#4a4a4a" stroke-width="2" />
<line x1="754.5" y1="662.2" x2="754.5" y2="653.2" stroke="#111" stroke-width="2" />
<line x1="754.5" y1="1143.6" x2="754.5" y2="1152.6" stroke="#4a4a4a" stroke-width="2" />
<mask id="mB" maskUnits="userSpaceOnUse" x="0" y="600" width="800" height="634"><rect x="0" y="600" width="800" height="634" fill="#fff"/>
<circle cx="170.8" cy="1113.7" r="10" fill="#000"/>
<circle cx="251.7" cy="1083.8" r="10" fill="#000"/>
<circle cx="332.8" cy="1044.9" r="10" fill="#000"/>
<circle cx="381.6" cy="1010.2" r="10" fill="#000"/>
<circle cx="413.9" cy="971.8" r="10" fill="#000"/>
<circle cx="430.2" cy="945.4" r="10" fill="#000"/>
<circle cx="440.3" cy="926.1" r="10" fill="#000"/>
<circle cx="449.8" cy="894.7" r="10" fill="#000"/>
<circle cx="459.1" cy="859.6" r="10" fill="#000"/>
<circle cx="462.9" cy="819.9" r="10" fill="#000"/>
<circle cx="466.1" cy="764.7" r="10" fill="#000"/>
<circle cx="469.1" cy="743.3" r="10" fill="#000"/>
<circle cx="472.9" cy="813.6" r="10" fill="#000"/>
<circle cx="474.9" cy="833.7" r="10" fill="#000"/>
<circle cx="479.2" cy="867.6" r="10" fill="#000"/>
<circle cx="484.9" cy="897.2" r="10" fill="#000"/>
<circle cx="495.0" cy="926.1" r="10" fill="#000"/>
<circle cx="511.1" cy="962.3" r="10" fill="#000"/>
<circle cx="527.6" cy="990.1" r="10" fill="#000"/>
<circle cx="560.0" cy="1016.3" r="10" fill="#000"/>
<circle cx="592.3" cy="1038.2" r="10" fill="#000"/>
<circle cx="657.1" cy="1076.5" r="10" fill="#000"/>
<circle cx="754.4" cy="1113.2" r="10" fill="#000"/>
</mask>
<polyline mask="url(#mB)" fill="none" stroke="#3318ff" stroke-width="3.6" points="170.8,1114.7 251.7,1084.8 332.8,1045.9 381.6,1011.2 413.9,972.8 430.2,946.4 440.3,927.1 449.8,895.7 459.1,860.6 462.9,820.9 466.1,765.7 469.1,744.3 472.9,814.6 474.9,834.7 479.2,868.6 484.9,898.2 495.0,927.1 511.1,963.3 527.6,991.1 560.0,1017.3 592.3,1039.2 657.1,1077.5 754.4,1114.2"/>
<path d="M170.8,1106.1 L180.4,1122.7 L161.2,1122.7 Z" fill="#ff0000"/>
<path d="M251.7,1076.2 L261.3,1092.8 L242.1,1092.8 Z" fill="#ff0000"/>
<path d="M332.8,1037.3 L342.4,1053.9 L323.2,1053.9 Z" fill="#ff0000"/>
<path d="M381.6,1002.6 L391.2,1019.2 L372.0,1019.2 Z" fill="#ff0000"/>
<path d="M413.9,964.2 L423.5,980.8 L404.3,980.8 Z" fill="#ff0000"/>
<path d="M430.2,937.8 L439.8,954.4 L420.6,954.4 Z" fill="#ff0000"/>
<path d="M440.3,918.5 L449.9,935.1 L430.7,935.1 Z" fill="#ff0000"/>
<path d="M449.8,887.1 L459.4,903.7 L440.2,903.7 Z" fill="#ff0000"/>
<path d="M459.1,852.0 L468.7,868.6 L449.5,868.6 Z" fill="#ff0000"/>
<path d="M462.9,812.3 L472.5,828.9 L453.3,828.9 Z" fill="#ff0000"/>
<path d="M466.1,757.1 L475.7,773.7 L456.5,773.7 Z" fill="#ff0000"/>
<path d="M469.1,735.7 L478.7,752.3 L459.5,752.3 Z" fill="#ff0000"/>
<path d="M472.9,806.0 L482.5,822.6 L463.3,822.6 Z" fill="#ff0000"/>
<path d="M474.9,826.1 L484.5,842.7 L465.3,842.7 Z" fill="#ff0000"/>
<path d="M479.2,860.0 L488.8,876.6 L469.6,876.6 Z" fill="#ff0000"/>
<path d="M484.9,889.6 L494.5,906.2 L475.3,906.2 Z" fill="#ff0000"/>
<path d="M495.0,918.5 L504.6,935.1 L485.4,935.1 Z" fill="#ff0000"/>
<path d="M511.1,954.7 L520.7,971.3 L501.5,971.3 Z" fill="#ff0000"/>
<path d="M527.6,982.5 L537.2,999.1 L518.0,999.1 Z" fill="#ff0000"/>
<path d="M560.0,1008.7 L569.6,1025.3 L550.4,1025.3 Z" fill="#ff0000"/>
<path d="M592.3,1030.6 L601.9,1047.2 L582.7,1047.2 Z" fill="#ff0000"/>
<path d="M657.1,1068.9 L666.7,1085.5 L647.5,1085.5 Z" fill="#ff0000"/>
<path d="M754.4,1105.6 L764.0,1122.2 L744.8,1122.2 Z" fill="#ff0000"/>
<line x1="164.5" y1="661.7" x2="164.5" y2="1143.6" stroke="#111" stroke-width="2.3" />
<line x1="155.0" y1="662.2" x2="763.2" y2="662.2" stroke="#111" stroke-width="2" />
<line x1="164.5" y1="1143.6" x2="771.7" y2="1143.6" stroke="#4a4a4a" stroke-width="2" />
<line x1="762.7" y1="662.2" x2="762.7" y2="1143.6" stroke="#555" stroke-width="2" />
<text x="88.0" y="1159.6999999999998" font-family='"Liberation Serif", serif' font-size="42" font-weight="normal" font-style="normal" fill="#000" text-anchor="start" textLength="59" lengthAdjust="spacingAndGlyphs" >1. 0</text>
<text x="88.0" y="1079.465" font-family='"Liberation Serif", serif' font-size="42" font-weight="normal" font-style="normal" fill="#000" text-anchor="start" textLength="59" lengthAdjust="spacingAndGlyphs" >1. 5</text>
<text x="88.0" y="999.2299999999999" font-family='"Liberation Serif", serif' font-size="42" font-weight="normal" font-style="normal" fill="#000" text-anchor="start" textLength="59" lengthAdjust="spacingAndGlyphs" >2. 0</text>
<text x="88.0" y="918.995" font-family='"Liberation Serif", serif' font-size="42" font-weight="normal" font-style="normal" fill="#000" text-anchor="start" textLength="59" lengthAdjust="spacingAndGlyphs" >2. 5</text>
<text x="88.0" y="838.7599999999999" font-family='"Liberation Serif", serif' font-size="42" font-weight="normal" font-style="normal" fill="#000" text-anchor="start" textLength="59" lengthAdjust="spacingAndGlyphs" >3. 0</text>
<text x="88.0" y="758.525" font-family='"Liberation Serif", serif' font-size="42" font-weight="normal" font-style="normal" fill="#000" text-anchor="start" textLength="59" lengthAdjust="spacingAndGlyphs" >3. 5</text>
<text x="88.0" y="678.29" font-family='"Liberation Serif", serif' font-size="42" font-weight="normal" font-style="normal" fill="#000" text-anchor="start" textLength="59" lengthAdjust="spacingAndGlyphs" >4. 0</text>
<text x="170.4" y="1194.8" font-family='"Liberation Serif", serif' font-size="42" font-weight="normal" font-style="normal" fill="#000" text-anchor="middle" textLength="82" lengthAdjust="spacingAndGlyphs" >0. 00</text>
<text x="365.1" y="1194.8" font-family='"Liberation Serif", serif' font-size="42" font-weight="normal" font-style="normal" fill="#000" text-anchor="middle" textLength="82" lengthAdjust="spacingAndGlyphs" >0. 06</text>
<text x="559.2" y="1194.8" font-family='"Liberation Serif", serif' font-size="42" font-weight="normal" font-style="normal" fill="#000" text-anchor="middle" textLength="82" lengthAdjust="spacingAndGlyphs" >0. 12</text>
<text x="754.0" y="1194.8" font-family='"Liberation Serif", serif' font-size="42" font-weight="normal" font-style="normal" fill="#000" text-anchor="middle" textLength="82" lengthAdjust="spacingAndGlyphs" >0. 18</text>
<text x="450.6" y="1225.3" font-family='"Liberation Serif", serif' font-size="52" font-weight="bold" font-style="italic" fill="#000" text-anchor="start" textLength="26" lengthAdjust="spacingAndGlyphs" >k</text>
<text x="0.5" y="668.5" font-family='"Liberation Serif", serif' font-size="51" font-weight="bold" font-style="normal" fill="#000" text-anchor="start" textLength="64.5" lengthAdjust="spacingAndGlyphs" >(b)</text>
<text transform="translate(64,975.7) rotate(-90)" font-family='"Liberation Serif", serif' font-size="40" font-weight="bold" fill="#000">log<tspan font-size="27" dy="8.5">10</tspan><tspan dy="-8.5"> (Q)</tspan></text>
<text x="793.5" y="668" font-family='"Liberation Serif", serif' font-size="51" font-weight="bold" font-style="normal" fill="#000" text-anchor="start" textLength="62" lengthAdjust="spacingAndGlyphs" >(c)</text>
<rect x="862.5" y="647.4" width="535.5" height="574.6" fill="#0a0000"/>
<defs><filter id="hb" x="0" y="0" width="1" height="1"><feGaussianBlur stdDeviation="1.6"/></filter>
<clipPath id="cb0"><rect x="862.5" y="647.4" width="535.5" height="197.10000000000002"/></clipPath>
<linearGradient id="pl0" gradientUnits="userSpaceOnUse" x1="862.5" y1="0" x2="1093.6" y2="0">
<stop offset="0" stop-color="#110000"/><stop offset="0.8" stop-color="#110000"/><stop offset="1" stop-color="#1a0000"/></linearGradient>
<linearGradient id="pr0" gradientUnits="userSpaceOnUse" x1="1153.6" y1="0" x2="1398.0" y2="0">
<stop offset="0" stop-color="#1a0000"/><stop offset="0.2" stop-color="#110000"/><stop offset="1" stop-color="#110000"/></linearGradient>
<clipPath id="cb1"><rect x="862.5" y="845.5" width="535.5" height="183.29999999999995"/></clipPath>
<linearGradient id="pl1" gradientUnits="userSpaceOnUse" x1="862.5" y1="0" x2="1095.0" y2="0">
<stop offset="0" stop-color="#300000"/><stop offset="0.35" stop-color="#4a0000"/><stop offset="0.7" stop-color="#780000"/><stop offset="1" stop-color="#9c0000"/></linearGradient>
<linearGradient id="pr1" gradientUnits="userSpaceOnUse" x1="1147.7" y1="0" x2="1398.0" y2="0">
<stop offset="0" stop-color="#9c0000"/><stop offset="0.3" stop-color="#780000"/><stop offset="0.65" stop-color="#4a0000"/><stop offset="1" stop-color="#2c0000"/></linearGradient>
<clipPath id="cb2"><rect x="862.5" y="1030.0" width="535.5" height="192.0"/></clipPath>
<linearGradient id="pl2" gradientUnits="userSpaceOnUse" x1="862.5" y1="0" x2="1097.0" y2="0">
<stop offset="0" stop-color="#110000"/><stop offset="0.8" stop-color="#110000"/><stop offset="1" stop-color="#1a0000"/></linearGradient>
<linearGradient id="pr2" gradientUnits="userSpaceOnUse" x1="1156.0" y1="0" x2="1398.0" y2="0">
<stop offset="0" stop-color="#1a0000"/><stop offset="0.2" stop-color="#110000"/><stop offset="1" stop-color="#110000"/></linearGradient>
</defs>
<g clip-path="url(#cb0)"><g filter="url(#hb)">
<rect x="854.5" y="639.4" width="552.0" height="214.0" fill="#0f0000"/>
<path fill-rule="evenodd" fill="#150000" d="M936,677 956,713 966,741 966,751 958,775 946,801 938,813 938,817 984,851 1262,851 1292,831 1310,815 1294,789 1280,751 1280,741 1290,713 1310,677 1288,659 1258,639 988,639 950,665Z"/>
<path fill-rule="evenodd" fill="#190000" d="M970,683 990,711 1006,745 1006,749 998,763 996,771 970,811 1014,833 1018,833 1024,837 1050,845 1062,851 1184,851 1222,837 1228,833 1232,833 1276,811 1256,781 1240,747 1254,715 1276,683 1268,677 1230,659 1174,639 1072,639 1016,659 978,677Z"/>
<path fill-rule="evenodd" fill="#1d0000" d="M990,687 1016,723 1028,745 1014,773 990,807 1040,825 1064,829 1074,833 1082,833 1084,835 1110,837 1112,839 1134,839 1136,837 1150,837 1152,835 1182,831 1184,829 1206,825 1220,819 1226,819 1232,815 1256,807 1232,773 1218,747 1230,723 1256,687 1250,683 1210,669 1204,669 1178,661 1160,659 1158,657 1148,657 1146,655 1100,655 1098,657 1088,657 1086,659 1078,659 1076,661 1068,661 1066,663 1036,669 1006,679Z"/>
<path fill-rule="evenodd" fill="#200000" d="M1004,691 1022,713 1042,745 1032,765 1004,803 1026,809 1034,813 1064,817 1066,819 1100,821 1102,823 1146,823 1148,821 1164,821 1166,819 1180,819 1182,817 1212,813 1242,803 1222,777 1204,747 1216,725 1242,689 1208,679 1190,677 1188,675 1160,673 1158,671 1136,671 1134,669 1112,669 1110,671 1088,671 1086,673 1072,673 1070,675 1058,675 1056,677 1038,679 1010,687Z"/>
<path fill-rule="evenodd" fill="#240000" d="M1014,693 1028,709 1052,745 1036,773 1016,797 1016,801 1022,801 1040,807 1048,807 1050,809 1066,809 1068,811 1178,811 1180,809 1194,809 1196,807 1206,807 1208,805 1216,805 1230,801 1230,797 1212,775 1194,747 1208,723 1232,693 1212,687 1204,687 1202,685 1166,683 1164,681 1082,681 1080,683 1056,683 1054,685 1044,685 1042,687 1034,687Z"/>
<path fill-rule="evenodd" fill="#280000" d="M1022,695 1030,703 1058,743 1056,753 1024,797 1036,801 1068,803 1070,805 1084,805 1086,803 1160,803 1162,805 1174,805 1176,803 1198,803 1200,801 1210,801 1222,797 1190,753 1188,745 1204,719 1224,695 1208,693 1206,691 1194,691 1192,689 1054,689 1052,691 1040,691 1038,693Z"/>
<path fill-rule="evenodd" fill="#2c0000" d="M1032,697 1032,701 1040,709 1060,737 1064,749 1054,765 1030,795 1048,797 1050,799 1090,799 1092,797 1108,797 1110,795 1136,795 1138,797 1154,797 1156,799 1196,799 1198,797 1216,795 1198,773 1182,747 1190,731 1216,697 1190,695 1188,693 1164,693 1162,695 1146,695 1144,697 1104,697 1102,695 1084,695 1082,693 1058,693 1056,695Z"/>
<path fill-rule="evenodd" fill="#300000" d="M1038,699 1038,703 1062,733 1068,745 1068,749 1054,771 1036,793 1044,793 1046,795 1086,795 1088,793 1098,793 1112,789 1136,789 1138,791 1158,793 1160,795 1200,795 1202,793 1210,793 1192,771 1178,747 1182,737 1194,719 1210,701 1208,699 1166,697 1164,699 1152,699 1140,703 1106,703 1104,701 1082,699 1080,697Z"/>
<path fill-rule="evenodd" fill="#340000" d="M1042,703 1056,719 1070,741 1070,751 1066,759 1042,791 1074,793 1076,791 1088,791 1114,783 1132,783 1134,785 1140,785 1158,791 1170,791 1172,793 1204,791 1184,765 1176,751 1176,743 1182,731 1204,703 1202,701 1162,701 1160,703 1144,705 1136,709 1110,709 1102,705 1086,703 1084,701 1044,701Z"/>
<path fill-rule="evenodd" fill="#380000" d="M1048,703 1048,707 1062,723 1072,741 1072,753 1064,767 1046,789 1082,789 1118,777 1128,777 1164,789 1200,789 1188,775 1174,753 1174,741 1180,729 1200,703 1168,703 1166,705 1150,707 1130,715 1116,715 1096,707 1080,705 1078,703Z"/>
<path fill-rule="evenodd" fill="#3c0000" d="M1050,705 1062,719 1074,739 1074,753 1064,771 1050,787 1080,787 1100,781 1116,773 1130,773 1146,781 1166,787 1196,787 1184,773 1172,753 1172,739 1180,725 1196,705 1172,705 1170,707 1162,707 1148,711 1128,721 1118,721 1086,707Z"/>
<path fill-rule="evenodd" fill="#400000" d="M1054,707 1064,719 1076,739 1076,753 1062,777 1054,785 1078,785 1080,783 1086,783 1098,779 1118,767 1128,767 1148,779 1168,785 1192,785 1180,771 1170,753 1172,735 1192,707 1162,709 1150,713 1124,727 1116,725 1108,719 1084,709Z"/>
<path fill-rule="evenodd" fill="#440000" d="M1058,709 1074,731 1078,741 1078,753 1072,765 1058,783 1078,783 1092,779 1104,773 1118,761 1128,761 1142,773 1160,781 1166,781 1168,783 1188,783 1174,765 1168,751 1170,735 1188,709 1172,709 1170,711 1156,713 1144,719 1126,733 1114,729 1108,723 1090,713 1076,711 1074,709Z"/>
<path fill-rule="evenodd" fill="#470000" d="M1148,719 1132,733 1128,739 1126,751 1130,757 1150,775 1166,781 1186,783 1180,777 1168,757 1168,737 1184,711 1170,711ZM1062,711 1076,731 1078,737 1078,757 1066,777 1060,783 1080,781 1100,773 1118,755 1120,751 1120,745 1118,743 1120,741 1116,735 1098,719 1076,711Z"/>
<path fill-rule="evenodd" fill="#4b0000" d="M1160,715 1148,721 1136,733 1132,741 1134,757 1138,763 1150,773 1164,779 1182,781 1166,755 1166,739 1176,719 1182,713ZM1064,713 1070,719 1080,737 1080,755 1072,771 1064,781 1072,781 1074,779 1088,777 1102,769 1114,753 1114,741 1110,733 1098,721 1078,713Z"/>
<path fill-rule="evenodd" fill="#4f0000" d="M1180,713 1154,719 1140,731 1136,739 1136,755 1138,759 1150,771 1170,779 1180,779 1174,773 1166,757 1166,735ZM1066,713 1074,723 1082,741 1080,745 1082,751 1080,753 1080,759 1068,777 1068,779 1076,779 1078,777 1084,777 1102,767 1108,759 1112,747 1110,745 1110,737 1098,723 1080,715Z"/>
<path fill-rule="evenodd" fill="#540000" d="M1170,715 1154,721 1142,731 1138,739 1138,753 1142,761 1152,771 1160,775 1176,777 1170,769 1164,755 1164,737 1176,715ZM1070,715 1082,737 1082,757 1070,777 1080,777 1094,771 1106,759 1108,755 1108,739 1104,731 1096,723 1084,717Z"/>
<path fill-rule="evenodd" fill="#580000" d="M1168,717 1156,721 1144,731 1140,739 1140,755 1152,769 1164,775 1174,777 1164,759 1164,735 1174,717ZM1078,717 1072,717 1082,733 1082,749 1084,751 1082,753 1082,759 1072,777 1082,775 1094,769 1104,759 1108,747 1106,737 1102,731 1090,721Z"/>
<path fill-rule="evenodd" fill="#5c0000" d="M1172,717 1152,725 1144,733 1140,745 1144,759 1154,769 1168,775 1172,775 1162,755 1162,737ZM1074,717 1084,737 1084,757 1074,775 1078,775 1092,769 1102,759 1106,745 1102,733 1088,721Z"/>
<path fill-rule="evenodd" fill="#600000" d="M1170,719 1154,725 1146,733 1142,741 1142,753 1148,763 1166,773 1170,773 1162,759 1162,735ZM1076,719 1084,733 1084,759 1076,773 1082,773 1096,765 1104,753 1104,739 1092,725Z"/>
<path fill-rule="evenodd" fill="#640000" d="M1164,721 1156,725 1146,735 1142,747 1148,761 1154,767 1168,773 1160,753 1162,747 1160,739 1162,737 1162,731 1168,721ZM1082,721 1078,721 1086,737 1086,743 1084,745 1086,755 1078,773 1092,767 1100,759 1104,749 1098,731Z"/>
<path fill-rule="evenodd" fill="#680000" d="M1162,723 1148,733 1144,741 1144,751 1148,759 1156,767 1166,771 1160,757 1160,735 1166,723ZM1080,721 1086,735 1086,759 1080,771 1090,767 1100,757 1102,753 1102,741 1092,727Z"/>
<path fill-rule="evenodd" fill="#6c0000" d="M1164,723 1156,727 1148,735 1144,745 1146,755 1152,763 1164,769 1160,759 1160,733ZM1082,723 1086,733 1086,761 1082,769 1084,769 1096,761 1100,755 1102,745 1098,735 1090,727Z"/>
<path fill-rule="evenodd" fill="#700000" d="M1162,725 1150,733 1146,741 1146,753 1156,765 1164,769 1158,755 1158,749 1160,747 1158,737 1164,725ZM1086,725 1084,725 1084,729 1088,737 1088,743 1086,745 1088,755 1082,769 1090,765 1100,753 1100,741 1096,733Z"/>
<path fill-rule="evenodd" fill="#740000" d="M1162,725 1150,735 1146,745 1148,755 1162,767 1158,757 1158,735ZM1084,725 1088,733 1088,759 1084,767 1094,761 1100,749 1098,737Z"/>
<path fill-rule="evenodd" fill="#780000" d="M1160,727 1152,733 1146,747 1150,757 1160,765 1158,761 1158,733ZM1086,727 1088,731 1088,761 1086,765 1088,765 1096,757 1100,745 1094,733Z"/>
<path fill-rule="evenodd" fill="#7c0000" d="M1158,729 1148,741 1150,743 1148,745 1148,751 1154,761 1160,765 1156,751 1158,747 1158,731 1160,729ZM1088,729 1090,755 1086,765 1092,761 1098,751 1098,741Z"/>
<path fill-rule="evenodd" fill="#810000" d="M1156,731 1150,739 1148,749 1158,763 1156,757 1156,749 1158,747 1156,735 1158,731ZM1090,731 1088,731 1090,735 1090,745 1088,747 1090,749 1090,759 1088,763 1096,755 1098,749 1096,739Z"/>
<path fill-rule="evenodd" fill="#850000" d="M1158,731 1152,737 1148,747 1156,761 1156,733ZM1088,731 1090,733 1090,761 1094,757 1098,745 1096,739Z"/>
<path fill-rule="evenodd" fill="#890000" d="M1156,733 1150,741 1150,747 1152,749 1150,751 1156,759ZM1090,733 1090,747 1092,749 1090,751 1090,759 1096,751 1094,749 1096,747 1096,741Z"/>
<path fill-rule="evenodd" fill="#8d0000" d="M1156,735 1150,745 1156,759 1154,755 1156,751 1154,749 1156,747 1154,743ZM1090,733 1092,737 1092,743 1090,745 1092,755 1090,759 1096,747Z"/>
<path fill-rule="evenodd" fill="#910000" d="M1154,737 1150,745 1154,755 1154,749 1156,747ZM1092,737 1092,745 1090,747 1092,749 1092,757 1096,747Z"/>
</g>
<path d="M673.6,670.0 686.7,670.0 699.8,670.0 712.9,670.1 726.0,670.1 739.1,670.2 752.2,670.2 765.3,670.3 778.4,670.4 791.5,670.5 804.6,670.6 817.7,670.8 830.8,671.0 843.9,671.3 857.0,671.7 870.2,672.2 883.3,672.7 896.4,673.5 909.5,674.4 922.6,675.6 935.7,677.0 948.8,678.8 961.9,680.9 975.0,683.4 988.1,686.2 1001.2,689.4 1014.3,693.0 1027.4,697.1 1040.5,701.7 1053.6,707.0 1056.7,708.4 1059.8,709.8 1062.9,711.4 1066.0,713.0 1069.1,714.7 1072.1,716.6 1075.2,718.6 1078.3,720.8 1081.4,723.3 1084.5,726.1 1087.6,729.6 1088.6,730.9 1089.6,732.4 1090.6,734.1 1091.6,736.2 1092.6,739.0 1093.6,746.8 1092.6,754.6 1091.6,757.4 1090.6,759.5 1089.6,761.2 1088.6,762.7 1087.6,764.0 1084.5,767.5 1081.4,770.3 1078.3,772.8 1075.2,775.0 1072.1,777.0 1069.1,778.9 1066.0,780.6 1062.9,782.2 1059.8,783.8 1056.7,785.2 1053.6,786.6 1040.5,791.9 1027.4,796.5 1014.3,800.6 1001.2,804.2 988.1,807.4 975.0,810.2 961.9,812.7 948.8,814.8 935.7,816.6 922.6,818.0 909.5,819.2 896.4,820.1 883.3,820.9 870.2,821.4 857.0,821.9 843.9,822.3 830.8,822.6 817.7,822.8 804.6,823.0 791.5,823.1 778.4,823.2 765.3,823.3 752.2,823.4 739.1,823.4 726.0,823.5 712.9,823.5 699.8,823.6 686.7,823.6 673.6,823.6Z" fill="url(#pl0)"/>
<path d="M1573.6,670.0 1560.5,670.0 1547.4,670.0 1534.3,670.1 1521.2,670.1 1508.1,670.2 1495.0,670.2 1481.9,670.3 1468.8,670.4 1455.7,670.5 1442.6,670.6 1429.5,670.8 1416.4,671.0 1403.3,671.3 1390.2,671.7 1377.0,672.2 1363.9,672.7 1350.8,673.5 1337.7,674.4 1324.6,675.6 1311.5,677.0 1298.4,678.8 1285.3,680.9 1272.2,683.4 1259.1,686.2 1246.0,689.4 1232.9,693.0 1219.8,697.1 1206.7,701.7 1193.6,707.0 1190.5,708.4 1187.4,709.8 1184.3,711.4 1181.2,713.0 1178.1,714.7 1175.1,716.6 1172.0,718.6 1168.9,720.8 1165.8,723.3 1162.7,726.1 1159.6,729.6 1158.6,730.9 1157.6,732.4 1156.6,734.1 1155.6,736.2 1154.6,739.0 1153.6,746.8 1154.6,754.6 1155.6,757.4 1156.6,759.5 1157.6,761.2 1158.6,762.7 1159.6,764.0 1162.7,767.5 1165.8,770.3 1168.9,772.8 1172.0,775.0 1175.1,777.0 1178.1,778.9 1181.2,780.6 1184.3,782.2 1187.4,783.8 1190.5,785.2 1193.6,786.6 1206.7,791.9 1219.8,796.5 1232.9,800.6 1246.0,804.2 1259.1,807.4 1272.2,810.2 1285.3,812.7 1298.4,814.8 1311.5,816.6 1324.6,818.0 1337.7,819.2 1350.8,820.1 1363.9,820.9 1377.0,821.4 1390.2,821.9 1403.3,822.3 1416.4,822.6 1429.5,822.8 1442.6,823.0 1455.7,823.1 1468.8,823.2 1481.9,823.3 1495.0,823.4 1508.1,823.4 1521.2,823.5 1534.3,823.5 1547.4,823.6 1560.5,823.6 1573.6,823.6Z" fill="url(#pr0)"/>
</g>
<g clip-path="url(#cb1)"><g filter="url(#hb)">
<rect x="854.5" y="837.5" width="552.0" height="200.0" fill="#3a0000"/>
<path fill-rule="evenodd" fill="#460000" d="M854,838 854,922 880,930 894,940 890,946 870,956 854,960 854,1036 1404,1036 1404,964 1390,962 1372,956 1352,946 1346,940 1366,928 1390,920 1404,918 1404,838Z"/>
<path fill-rule="evenodd" fill="#4e0000" d="M854,838 854,906 868,908 896,918 910,926 926,940 920,948 906,958 886,968 854,976 854,1036 1404,1036 1404,980 1402,978 1392,978 1390,976 1368,972 1346,964 1332,956 1316,942 1324,932 1350,916 1374,908 1404,902 1404,838Z"/>
<path fill-rule="evenodd" fill="#560000" d="M854,846 854,894 868,896 902,906 930,922 948,940 930,960 918,968 884,982 854,988 854,1036 1404,1036 1404,990 1374,986 1340,976 1312,960 1294,942 1314,920 1340,906 1382,894 1404,892 1404,846 1252,846 1250,844 1152,842 1150,840 1030,842 1028,844 992,844 990,846Z"/>
<path fill-rule="evenodd" fill="#5e0000" d="M854,854 854,884 856,886 876,888 910,898 940,914 964,940 960,948 942,966 930,974 898,988 892,988 874,994 866,994 864,996 856,996 854,998 854,1028 964,1028 966,1030 1012,1030 1014,1032 1228,1032 1230,1030 1276,1030 1278,1028 1404,1028 1404,1000 1358,992 1328,982 1302,968 1278,942 1280,936 1302,914 1318,904 1322,904 1332,898 1350,892 1404,882 1404,854 1284,854 1282,852 1234,852 1232,850 1184,850 1182,848 1132,848 1130,850 1060,848 1058,850 958,852 956,854Z"/>
<path fill-rule="evenodd" fill="#660000" d="M854,860 854,878 884,882 922,894 942,904 956,914 978,940 964,960 942,978 922,988 898,996 892,996 874,1002 854,1004 854,1022 956,1022 958,1024 1006,1024 1008,1026 1234,1026 1236,1024 1284,1024 1286,1022 1404,1022 1404,1006 1368,1002 1320,988 1300,978 1286,968 1274,956 1264,942 1274,926 1288,912 1300,904 1320,894 1350,884 1376,880 1378,878 1388,878 1390,876 1402,876 1404,874 1404,860 1294,860 1292,858 1240,858 1238,856 1004,856 1002,858 950,858 948,860Z"/>
<path fill-rule="evenodd" fill="#6e0000" d="M854,866 856,872 866,872 868,874 902,880 926,888 950,900 962,908 978,924 988,938 988,942 978,958 964,972 950,982 908,1000 902,1000 894,1004 886,1004 876,1008 868,1008 866,1010 856,1010 854,1016 982,1018 984,1020 1024,1020 1026,1022 1082,1022 1084,1020 1216,1022 1218,1020 1258,1020 1260,1018 1404,1016 1404,1014 1400,1012 1388,1012 1386,1010 1356,1006 1316,994 1280,974 1264,958 1254,944 1254,938 1262,926 1280,908 1302,894 1340,880 1374,874 1376,872 1398,870 1404,868 1404,866 1264,864 1262,862 1222,862 1220,860 1156,860 1154,862 1022,860 1020,862 978,862 976,864Z"/>
<path fill-rule="evenodd" fill="#770000" d="M876,870 884,870 886,872 908,876 936,886 956,896 968,904 988,924 998,940 988,958 968,978 956,986 914,1004 908,1004 884,1012 876,1012 988,1014 990,1016 1030,1016 1032,1018 1068,1018 1070,1016 1102,1016 1104,1014 1210,1018 1212,1016 1252,1016 1254,1014 1366,1012 1358,1012 1334,1004 1328,1004 1286,986 1274,978 1252,956 1244,942 1244,938 1252,926 1274,904 1286,896 1310,884 1334,876 1340,876 1358,870 1366,870 1258,868 1256,866 1218,866 1216,864 1170,864 1168,866 1136,866 1134,868 1074,866 1072,864 1026,864 1024,866 984,866 982,868Z"/>
<path fill-rule="evenodd" fill="#7f0000" d="M912,874 918,874 940,884 944,884 972,900 992,918 1006,938 1006,944 992,964 972,982 944,998 912,1008 1020,1012 1022,1014 1070,1014 1072,1012 1096,1012 1098,1010 1144,1010 1146,1012 1170,1012 1172,1014 1220,1014 1222,1012 1330,1008 1298,998 1270,982 1248,962 1236,944 1236,938 1242,928 1264,904 1302,882 1328,874 1314,874 1312,872 1264,872 1262,870 1226,870 1224,868 1168,868 1166,870 1144,870 1142,872 1100,872 1098,870 1076,870 1074,868 1018,868 1016,870Z"/>
<path fill-rule="evenodd" fill="#870000" d="M932,876 946,880 978,898 998,916 1014,940 1010,950 990,974 962,994 936,1006 932,1006 970,1006 972,1008 1006,1008 1008,1010 1078,1010 1080,1008 1096,1008 1098,1006 1144,1006 1146,1008 1162,1008 1164,1010 1234,1010 1236,1008 1270,1008 1272,1006 1310,1006 1296,1002 1264,984 1242,964 1228,944 1228,938 1236,926 1256,904 1276,890 1296,880 1310,876 1276,876 1274,874 1240,874 1238,872 1162,872 1160,874 1144,874 1142,876 1100,876 1098,874 1082,874 1080,872 1004,872 1002,874Z"/>
<path fill-rule="evenodd" fill="#8f0000" d="M950,878 988,900 1008,920 1020,938 1020,944 1008,962 990,980 970,994 952,1002 954,1004 1062,1008 1064,1006 1084,1006 1086,1004 1100,1004 1102,1002 1138,1002 1140,1004 1176,1006 1178,1008 1216,1008 1218,1006 1252,1006 1254,1004 1288,1004 1290,1002 1272,994 1254,982 1234,962 1220,940 1232,922 1254,900 1268,890 1292,878 1256,878 1254,876 1222,876 1220,874 1176,874 1174,876 1156,876 1154,878 1140,878 1138,880 1104,880 1102,878 1068,876 1066,874 1022,874 1020,876 988,876 986,878Z"/>
<path fill-rule="evenodd" fill="#980000" d="M964,882 994,900 1014,920 1028,940 1014,962 996,980 980,992 964,1000 970,1002 1000,1002 1002,1004 1078,1004 1080,1002 1092,1002 1094,1000 1106,1000 1108,998 1134,998 1136,1000 1148,1000 1150,1002 1162,1002 1164,1004 1240,1004 1242,1002 1272,1002 1278,1000 1248,982 1228,962 1214,942 1226,922 1250,898 1268,886 1278,882 1276,880 1190,876 1188,878 1162,878 1160,880 1148,880 1146,882 1134,882 1132,884 1110,884 1108,882 1096,882 1094,880 1082,880 1080,878 1038,876 1036,878 998,878 996,880 966,880Z"/>
<path fill-rule="evenodd" fill="#a80000" d="M974,884 980,886 1002,902 1016,916 1032,938 1032,944 1014,968 994,986 974,998 978,1000 1074,1002 1076,1000 1088,1000 1090,998 1116,996 1118,994 1140,996 1154,1000 1166,1000 1168,1002 1234,1002 1236,1000 1264,1000 1268,998 1262,996 1240,980 1226,966 1208,940 1224,918 1250,894 1268,884 1266,882 1166,880 1164,882 1152,882 1138,886 1102,886 1100,884 1078,882 1076,880 1006,880 1004,882 976,882Z"/>
<path fill-rule="evenodd" fill="#b80000" d="M982,884 1002,898 1024,920 1038,940 1024,962 1004,982 988,994 982,996 984,998 1072,1000 1074,998 1086,998 1088,996 1108,994 1110,992 1132,992 1134,994 1144,994 1146,996 1168,998 1170,1000 1258,998 1256,994 1240,984 1218,962 1206,946 1204,940 1216,922 1240,898 1260,884 1236,884 1234,882 1168,882 1166,884 1144,886 1132,890 1110,890 1108,888 1088,886 1086,884 1074,884 1072,882 1008,882 1006,884Z"/>
<path fill-rule="evenodd" fill="#c80000" d="M988,886 1006,898 1030,922 1042,938 1042,944 1030,960 1006,984 988,996 1010,996 1012,998 1070,998 1072,996 1084,996 1086,994 1094,994 1106,990 1136,990 1138,992 1168,996 1170,998 1230,998 1232,996 1254,996 1236,984 1212,960 1200,944 1200,938 1210,924 1238,896 1254,886 1234,886 1232,884 1170,884 1168,886 1156,886 1154,888 1146,888 1134,892 1106,892 1096,888 1074,886 1072,884 1008,884 1006,886Z"/>
<path fill-rule="evenodd" fill="#d70000" d="M996,888 1010,898 1034,922 1046,938 1046,944 1032,962 1012,982 994,994 1008,994 1010,996 1072,996 1074,994 1084,994 1086,992 1094,992 1114,986 1128,986 1130,988 1138,988 1140,990 1156,992 1158,994 1168,994 1170,996 1232,996 1234,994 1246,994 1232,984 1208,960 1194,942 1206,924 1234,896 1246,888 1236,888 1234,886 1168,886 1166,888 1156,888 1154,890 1128,894 1126,896 1116,896 1114,894 1106,894 1104,892 1096,892 1094,890 1076,888 1074,886 1008,886 1006,888Z"/>
<path fill-rule="evenodd" fill="#e70000" d="M1002,890 1016,900 1034,918 1050,938 1050,944 1034,964 1018,980 1002,992 1008,994 1074,994 1076,992 1086,992 1112,984 1130,984 1132,986 1138,986 1156,992 1166,992 1168,994 1234,994 1240,992 1226,982 1206,962 1190,942 1206,920 1228,898 1240,890 1236,888 1206,888 1204,886 1166,888 1164,890 1156,890 1128,898 1112,898 1086,890 1056,888 1054,886 1004,888Z"/>
<path fill-rule="evenodd" fill="#f70000" d="M1006,890 1044,926 1054,940 1052,946 1044,956 1006,992 1058,994 1060,992 1086,990 1110,982 1130,982 1156,990 1182,992 1184,994 1236,992 1230,988 1188,944 1188,938 1208,914 1236,890 1180,888 1178,890 1154,892 1130,900 1112,900 1088,892 1064,890 1062,888Z"/>
<path fill-rule="evenodd" fill="#ff0500" d="M1012,892 1042,920 1058,942 1040,964 1024,980 1010,990 1020,990 1022,992 1066,992 1068,990 1080,990 1082,988 1096,986 1110,980 1132,980 1146,986 1152,986 1162,990 1174,990 1176,992 1220,992 1222,990 1230,990 1198,960 1184,942 1198,922 1230,892 1224,892 1222,890 1174,890 1172,892 1152,894 1130,902 1112,902 1090,894 1070,892 1068,890 1020,890 1018,892Z"/>
<path fill-rule="evenodd" fill="#ff0f00" d="M1014,892 1020,896 1060,938 1058,946 1048,958 1018,986 1016,990 1070,990 1072,988 1090,986 1110,978 1132,978 1152,986 1168,988 1170,990 1226,990 1226,988 1192,956 1180,940 1190,928 1228,892 1170,892 1168,894 1150,896 1130,904 1112,904 1098,898 1074,894 1072,892Z"/>
<path fill-rule="evenodd" fill="#ff1a00" d="M1018,894 1020,894 1064,940 1054,954 1018,988 1032,988 1034,990 1076,988 1120,974 1166,988 1182,988 1184,990 1224,988 1222,988 1178,942 1184,932 1200,914 1222,894 1214,894 1212,892 1180,892 1178,894 1156,896 1130,906 1112,906 1086,896 1062,894 1060,892 1030,892 1028,894Z"/>
<path fill-rule="evenodd" fill="#ff2400" d="M1022,894 1044,914 1066,940 1058,952 1022,988 1068,988 1070,986 1088,984 1120,972 1136,976 1154,984 1172,986 1174,988 1220,988 1196,966 1176,942 1180,934 1194,918 1220,894 1172,894 1170,896 1154,898 1130,908 1112,908 1088,898 1070,896 1068,894Z"/>
<path fill-rule="evenodd" fill="#ff2e00" d="M1026,896 1048,916 1068,940 1062,950 1026,986 1044,986 1046,988 1052,986 1074,986 1076,984 1084,984 1120,970 1168,986 1190,986 1192,988 1196,986 1216,986 1192,964 1174,942 1178,934 1190,920 1216,896 1206,896 1204,894 1168,896 1140,904 1130,910 1112,910 1102,904 1074,896 1058,896 1056,894Z"/>
<path fill-rule="evenodd" fill="#ff3800" d="M1028,896 1050,916 1070,940 1064,950 1028,986 1066,986 1068,984 1078,984 1098,978 1112,970 1118,970 1120,968 1164,984 1174,984 1176,986 1214,986 1190,964 1172,942 1176,934 1188,920 1214,896 1174,896 1172,898 1162,898 1148,902 1128,912 1114,912 1098,904 1080,898 1070,898 1068,896Z"/>
<path fill-rule="evenodd" fill="#ff4300" d="M1032,898 1072,940 1064,952 1032,984 1072,984 1074,982 1082,982 1100,976 1120,966 1152,980 1158,980 1168,984 1210,984 1194,970 1170,942 1174,934 1190,916 1210,898 1202,898 1200,896 1168,898 1166,900 1158,900 1146,904 1128,914 1114,914 1100,906 1074,898 1056,898 1054,896Z"/>
<path fill-rule="evenodd" fill="#ff4d00" d="M1034,898 1072,938 1072,944 1064,954 1034,984 1066,984 1068,982 1078,982 1092,978 1120,964 1128,966 1150,978 1164,982 1174,982 1176,984 1208,984 1176,952 1168,940 1208,898 1174,898 1172,900 1162,900 1144,906 1128,916 1114,916 1102,908 1080,900 1070,900 1068,898Z"/>
<path fill-rule="evenodd" fill="#ff5700" d="M1038,898 1064,926 1074,940 1072,946 1064,956 1038,982 1044,982 1046,984 1052,984 1054,982 1074,982 1094,976 1120,962 1128,964 1132,968 1152,978 1158,978 1168,982 1188,982 1190,984 1204,982 1176,954 1168,942 1168,938 1204,898 1184,898 1182,900 1158,902 1146,908 1142,908 1126,918 1116,918 1084,902 1060,900 1058,898Z"/>
<path fill-rule="evenodd" fill="#ff6200" d="M1040,900 1062,922 1074,938 1072,948 1040,982 1080,980 1092,976 1120,960 1150,976 1162,980 1202,982 1178,958 1166,942 1176,926 1202,900 1172,900 1170,902 1154,904 1126,920 1116,920 1108,914 1080,902 1072,902 1070,900Z"/>
<path fill-rule="evenodd" fill="#ff6c00" d="M1040,900 1058,916 1076,938 1076,942 1070,952 1040,982 1060,982 1062,980 1084,978 1102,970 1120,958 1158,978 1180,980 1182,982 1200,982 1170,950 1166,944 1166,938 1180,920 1202,900 1180,900 1178,902 1158,904 1136,914 1126,922 1116,922 1106,914 1084,904 1064,902 1062,900Z"/>
<path fill-rule="evenodd" fill="#ff7600" d="M1044,902 1070,928 1076,938 1076,944 1068,956 1044,980 1070,980 1072,978 1088,976 1120,956 1154,976 1160,976 1170,980 1198,980 1166,946 1166,936 1198,902 1170,902 1168,904 1160,904 1138,914 1122,926 1116,924 1104,914 1082,904 1074,904 1072,902Z"/>
<path fill-rule="evenodd" fill="#ff7e00" d="M1046,902 1066,922 1078,940 1074,950 1046,980 1066,980 1068,978 1078,978 1102,968 1118,954 1126,956 1134,964 1152,974 1164,978 1174,978 1176,980 1196,980 1176,960 1164,944 1164,938 1174,924 1196,902 1174,902 1172,904 1156,906 1150,910 1146,910 1122,928 1116,926 1102,914 1086,906 1068,904 1066,902Z"/>
<path fill-rule="evenodd" fill="#ff8500" d="M1046,902 1072,928 1078,938 1078,944 1072,954 1048,980 1074,978 1088,974 1106,964 1118,952 1124,952 1138,966 1148,972 1168,978 1194,980 1170,954 1164,944 1164,936 1194,902 1166,904 1152,908 1138,916 1124,930 1118,930 1104,916 1094,910 1076,904Z"/>
<path fill-rule="evenodd" fill="#ff8c00" d="M1050,904 1070,924 1078,936 1078,946 1076,950 1050,978 1070,978 1072,976 1080,976 1092,972 1102,966 1120,948 1140,966 1150,972 1162,976 1170,976 1172,978 1192,978 1172,958 1164,946 1164,936 1166,932 1192,904 1170,904 1168,906 1154,908 1142,914 1122,934 1102,916 1092,910 1072,904Z"/>
<path fill-rule="evenodd" fill="#ff9300" d="M1138,918 1128,930 1124,940 1126,942 1126,948 1132,958 1138,964 1152,972 1164,976 1190,978 1168,954 1162,944 1162,938 1168,928 1190,904 1176,904 1174,906 1156,908ZM1052,904 1074,928 1080,938 1080,944 1074,954 1050,978 1078,976 1098,968 1108,960 1116,948 1116,934 1110,924 1090,910 1078,906 1068,906 1066,904Z"/>
<path fill-rule="evenodd" fill="#ff9a00" d="M1142,916 1128,932 1128,950 1142,966 1154,972 1168,976 1184,976 1190,978 1170,958 1162,946 1162,936 1164,932 1190,904 1166,906ZM1052,904 1070,922 1080,936 1080,944 1076,952 1052,978 1082,974 1102,964 1110,956 1114,948 1114,934 1110,926 1100,916 1088,910 1074,906Z"/>
<path fill-rule="evenodd" fill="#ffa100" d="M1146,914 1138,920 1130,930 1128,946 1138,962 1150,970 1162,974 1170,974 1172,976 1186,976 1166,954 1162,946 1162,934 1186,906 1170,906ZM1056,906 1080,936 1080,946 1074,956 1054,976 1080,974 1098,966 1110,954 1114,942 1112,932 1106,922 1092,912 1080,908Z"/>
<path fill-rule="evenodd" fill="#ffa800" d="M1144,916 1134,926 1130,934 1130,948 1134,956 1142,964 1152,970 1164,974 1186,976 1170,960 1160,944 1160,938 1164,930 1186,906 1164,908ZM1056,906 1070,920 1080,934 1080,948 1070,962 1056,976 1078,974 1100,964 1108,956 1112,948 1112,934 1108,926 1098,916 1078,908 1070,908 1068,906Z"/>
<path fill-rule="evenodd" fill="#ffaf00" d="M1142,918 1136,924 1130,936 1130,946 1138,960 1158,972 1184,976 1166,956 1160,946 1160,936 1184,906 1158,910ZM1058,906 1080,932 1082,944 1074,958 1056,976 1076,974 1096,966 1110,950 1112,940 1108,928 1102,920 1084,910Z"/>
<path fill-rule="evenodd" fill="#ffb600" d="M1146,916 1132,932 1132,950 1134,954 1150,968 1170,974 1182,974 1170,962 1160,946 1160,936 1164,928 1182,908 1168,908ZM1060,908 1078,928 1082,936 1082,946 1078,954 1060,974 1072,974 1092,968 1106,956 1110,948 1110,934 1106,926 1098,918 1088,912 1074,908Z"/>
<path fill-rule="evenodd" fill="#ffbd00" d="M1144,918 1136,926 1132,934 1132,946 1138,958 1156,970 1170,972 1172,974 1182,974 1166,958 1160,948 1160,934 1162,930 1182,908 1162,910ZM1060,908 1074,922 1082,934 1082,948 1074,960 1060,974 1070,974 1072,972 1086,970 1100,962 1108,952 1110,946 1108,930 1100,920 1086,912 1072,910 1070,908Z"/>
<path fill-rule="evenodd" fill="#ffc300" d="M1174,908 1148,916 1136,928 1132,942 1136,954 1146,964 1164,972 1180,974 1164,956 1160,948 1160,932 1180,908ZM1066,908 1062,908 1078,926 1082,934 1082,948 1062,974 1066,972 1078,972 1096,964 1108,950 1108,932 1106,928 1090,914 1078,910 1068,910Z"/>
<path fill-rule="evenodd" fill="#ffc800" d="M1064,910 1080,928 1084,938 1082,940 1084,944 1082,950 1064,972 1074,972 1092,966 1104,956 1108,948 1108,934 1104,926 1096,918 1076,910ZM1180,908 1178,910 1158,912 1146,918 1138,926 1134,934 1134,948 1138,956 1146,964 1166,972 1178,972 1162,954 1158,946 1158,936 1168,920Z"/>
<path fill-rule="evenodd" fill="#ffce00" d="M1168,910 1154,914 1140,924 1134,934 1134,946 1140,958 1148,964 1160,970 1176,972 1164,958 1158,946 1158,934 1176,910ZM1064,910 1076,922 1084,936 1084,946 1080,954 1064,972 1072,972 1094,964 1106,952 1108,936 1102,924 1094,918 1082,912Z"/>
<path fill-rule="evenodd" fill="#ffd300" d="M1170,910 1148,918 1138,928 1134,942 1138,954 1148,964 1162,970 1176,972 1162,956 1158,948 1158,934 1162,926 1176,910ZM1066,910 1084,934 1084,948 1066,972 1070,972 1094,964 1104,954 1108,940 1104,928 1094,918 1080,912Z"/>
<path fill-rule="evenodd" fill="#ffd900" d="M1172,912 1164,912 1152,916 1138,928 1136,932 1136,950 1146,962 1158,968 1174,970 1176,972 1166,962 1158,950 1158,932 1166,920 1176,910ZM1066,910 1076,920 1084,934 1084,948 1080,956 1066,972 1068,970 1078,970 1096,962 1106,948 1106,934 1102,926 1090,916 1078,912 1070,912Z"/>
<path fill-rule="evenodd" fill="#ffde00" d="M1166,912 1146,920 1140,926 1136,934 1136,948 1142,958 1150,964 1166,970 1174,970 1164,960 1158,950 1158,932 1164,922 1172,914 1172,912ZM1068,912 1078,922 1084,932 1084,950 1068,970 1076,970 1092,964 1104,952 1106,948 1106,934 1100,924 1084,914Z"/>
<path fill-rule="evenodd" fill="#ffe400" d="M1166,912 1150,918 1138,930 1136,946 1138,952 1154,966 1172,970 1162,958 1156,946 1158,930 1172,912ZM1070,912 1080,924 1086,938 1084,940 1084,950 1070,968 1070,970 1074,970 1094,962 1102,954 1106,938 1102,928 1088,916Z"/>
<path fill-rule="evenodd" fill="#ffea00" d="M1148,920 1140,928 1136,942 1140,954 1148,962 1172,970 1160,956 1156,948 1156,934 1160,926 1172,912ZM1070,912 1076,918 1086,936 1084,952 1070,970 1094,962 1102,954 1106,940 1102,928 1094,920Z"/>
<path fill-rule="evenodd" fill="#ffef00" d="M1162,914 1152,918 1142,926 1138,932 1136,942 1138,944 1138,950 1146,960 1162,968 1170,968 1164,962 1156,948 1156,934 1164,920 1170,914ZM1070,912 1078,920 1086,934 1086,948 1078,962 1072,968 1078,968 1090,964 1100,956 1104,948 1104,934 1100,926 1090,918Z"/>
<path fill-rule="evenodd" fill="#fff500" d="M1164,914 1144,924 1138,934 1138,948 1144,958 1164,968 1170,968 1162,960 1156,950 1156,932 1168,916 1168,914ZM1072,914 1080,922 1086,934 1086,948 1080,960 1072,968 1078,968 1092,962 1102,952 1104,948 1104,934 1092,920 1078,914Z"/>
<path fill-rule="evenodd" fill="#fffa00" d="M1150,920 1140,930 1138,946 1140,952 1150,962 1168,968 1156,950 1156,932 1168,914ZM1074,914 1086,932 1086,950 1074,966 1074,968 1088,964 1100,954 1104,946 1104,936 1102,930 1092,920Z"/>
<path fill-rule="evenodd" fill="#ffff01" d="M1168,914 1154,918 1148,922 1138,936 1138,946 1142,954 1148,960 1168,968 1156,952 1156,930ZM1074,914 1086,932 1086,950 1074,968 1094,960 1100,954 1104,942 1102,932 1094,922 1088,918Z"/>
<path fill-rule="evenodd" fill="#ffff0b" d="M1076,916 1086,930 1086,952 1076,966 1080,966 1098,956 1102,950 1104,940 1102,938 1102,932 1096,924 1082,916ZM1168,914 1148,922 1142,928 1138,940 1142,954 1152,962 1162,966 1166,966 1156,952 1154,946 1156,940 1154,936 1158,926Z"/>
<path fill-rule="evenodd" fill="#ffff14" d="M1162,916 1144,926 1140,932 1138,942 1140,944 1140,950 1152,962 1166,966 1160,960 1154,948 1154,934 1160,922 1166,916ZM1076,916 1084,926 1088,936 1086,940 1088,944 1086,952 1076,966 1080,966 1092,960 1100,952 1104,940 1100,930 1090,920Z"/>
<path fill-rule="evenodd" fill="#ffff1e" d="M1150,922 1142,930 1140,934 1140,948 1150,960 1164,966 1154,948 1154,934 1158,924 1164,918 1164,916ZM1076,916 1082,922 1088,934 1088,948 1082,960 1076,966 1092,960 1100,952 1102,948 1102,934 1092,922Z"/>
<path fill-rule="evenodd" fill="#ffff27" d="M1164,916 1150,922 1140,934 1140,948 1142,952 1150,960 1164,966 1154,950 1154,932ZM1078,916 1088,934 1088,948 1086,954 1078,964 1084,964 1098,954 1102,946 1102,936 1092,922Z"/>
<path fill-rule="evenodd" fill="#ffff31" d="M1150,922 1144,928 1140,936 1140,946 1148,958 1162,964 1154,950 1154,932 1162,918ZM1080,918 1088,932 1088,950 1080,962 1080,964 1098,954 1102,946 1102,936 1094,924Z"/>
<path fill-rule="evenodd" fill="#ffff3a" d="M1144,928 1140,936 1140,946 1146,956 1162,964 1154,952 1154,930 1162,918ZM1080,918 1088,932 1088,950 1080,964 1090,960 1100,950 1102,940 1096,926Z"/>
<path fill-rule="evenodd" fill="#ffff44" d="M1146,926 1142,932 1140,942 1142,944 1142,950 1152,960 1162,964 1154,952 1154,930 1162,918ZM1080,918 1088,930 1088,952 1080,964 1090,960 1100,950 1100,944 1102,942 1100,932 1090,922Z"/>
<path fill-rule="evenodd" fill="#ffff4d" d="M1162,918 1152,922 1142,932 1142,938 1140,940 1144,952 1152,960 1162,964 1158,960 1152,946 1154,942 1152,938 1154,930ZM1080,918 1088,930 1088,952 1080,964 1092,958 1098,952 1102,942 1098,930 1090,922Z"/>
<path fill-rule="evenodd" fill="#ffff57" d="M1158,920 1144,930 1140,942 1144,952 1150,958 1160,962 1152,948 1154,942 1152,934 1156,924 1160,920ZM1082,920 1090,936 1088,940 1088,952 1082,962 1084,962 1098,952 1100,948 1100,934 1092,924Z"/>
<path fill-rule="evenodd" fill="#ffff60" d="M1158,920 1144,930 1142,934 1142,948 1150,958 1160,962 1156,958 1152,948 1152,934 1156,924 1160,920ZM1082,920 1086,924 1090,934 1088,940 1090,946 1088,948 1088,954 1082,962 1084,962 1096,954 1100,946 1100,934 1092,924Z"/>
<path fill-rule="evenodd" fill="#ffff6a" d="M1158,920 1148,926 1142,934 1142,948 1146,954 1154,960 1158,960 1152,950 1152,932ZM1082,920 1086,924 1090,934 1090,948 1086,958 1082,962 1090,958 1100,946 1100,936 1094,926Z"/>
<path fill-rule="evenodd" fill="#ffff73" d="M1154,922 1144,932 1142,936 1142,946 1152,958 1158,960 1152,950 1152,932 1158,922ZM1084,922 1090,932 1090,950 1084,960 1086,960 1098,950 1100,946 1100,936 1090,924Z"/>
<path fill-rule="evenodd" fill="#ffff7d" d="M1156,922 1152,924 1142,936 1142,946 1144,950 1156,960 1152,952 1152,930ZM1084,922 1090,932 1090,950 1084,960 1086,960 1098,950 1100,940 1098,938 1098,932 1090,924Z"/>
<path fill-rule="evenodd" fill="#ffff86" d="M1156,922 1144,932 1144,938 1142,940 1144,950 1156,960 1152,952 1152,930ZM1086,922 1090,930 1090,950 1086,960 1096,952 1100,942 1096,930Z"/>
<path fill-rule="evenodd" fill="#ffff90" d="M1156,922 1146,930 1142,940 1146,952 1154,958 1156,958 1152,952 1152,930ZM1086,922 1090,930 1090,952 1086,958 1088,958 1096,952 1100,940 1096,930Z"/>
<path fill-rule="evenodd" fill="#ffff99" d="M1154,924 1146,930 1142,940 1146,952 1154,958 1152,952 1152,928ZM1086,924 1090,930 1090,952 1086,958 1094,954 1100,940 1096,930Z"/>
<path fill-rule="evenodd" fill="#ffffa3" d="M1154,924 1148,928 1142,940 1144,948 1148,954 1154,958 1150,946 1152,942 1150,936ZM1088,924 1090,928 1090,952 1088,958 1098,948 1098,934 1094,928Z"/>
<path fill-rule="evenodd" fill="#ffffac" d="M1154,924 1148,928 1142,940 1144,948 1154,958 1150,948 1152,942 1150,934ZM1088,924 1092,938 1090,940 1092,944 1088,958 1098,946 1098,936Z"/>
<path fill-rule="evenodd" fill="#ffffb6" d="M1154,924 1144,934 1144,946 1152,956 1154,956 1150,948 1150,932ZM1088,924 1092,934 1090,940 1092,948 1088,956 1090,956 1098,946 1098,936Z"/>
<path fill-rule="evenodd" fill="#ffffbf" d="M1152,926 1144,936 1144,946 1152,956 1150,950 1150,932ZM1088,926 1092,932 1092,938 1090,940 1092,948 1088,956 1090,956 1098,946 1098,936 1096,932Z"/>
<path fill-rule="evenodd" fill="#ffffc9" d="M1152,926 1144,936 1144,946 1152,956 1150,950 1150,932ZM1090,926 1092,932 1092,950 1090,956 1098,946 1098,940 1096,938 1098,936Z"/>
<path fill-rule="evenodd" fill="#ffffd2" d="M1090,928 1092,932 1092,950 1090,954 1092,954 1098,940 1094,930ZM1152,926 1144,936 1144,946 1150,954 1152,954 1150,952 1150,930Z"/>
<path fill-rule="evenodd" fill="#ffffdc" d="M1150,928 1144,942 1148,952 1152,954 1150,952 1150,930 1152,928ZM1092,928 1090,928 1092,930 1092,952 1090,954 1096,948 1098,942Z"/>
<path fill-rule="evenodd" fill="#ffffe5" d="M1150,928 1144,942 1146,948 1152,954 1150,952 1150,930 1152,928ZM1090,928 1092,930 1092,952 1090,954 1096,948 1098,942 1096,934Z"/>
<path fill-rule="evenodd" fill="#ffffef" d="M1150,930 1144,940 1146,948 1150,952ZM1090,928 1092,930 1092,952 1090,954 1096,948 1098,942 1096,934Z"/>
<path fill-rule="evenodd" fill="#fffff5" d="M1150,930 1144,940 1146,948 1150,952ZM1092,930 1092,952 1090,954 1098,942Z"/>
<path fill-rule="evenodd" fill="#fffff5" d="M1150,930 1144,940 1146,948 1150,952 1150,946 1148,944 1150,942 1148,938 1150,936ZM1092,930 1092,952 1096,946 1096,936Z"/>
</g>
<path d="M675.0,863.9 688.1,864.0 701.2,864.0 714.3,864.1 727.4,864.3 740.5,864.4 753.6,864.6 766.7,864.8 779.8,865.0 792.9,865.3 806.0,865.6 819.1,866.1 832.2,866.6 845.3,867.2 858.4,867.9 871.6,868.8 884.7,869.9 897.8,871.1 910.9,872.5 924.0,874.1 937.1,876.0 950.2,878.1 963.3,880.4 976.4,882.9 989.5,885.7 1002.6,888.7 1015.7,892.1 1028.8,895.8 1041.9,899.9 1055.0,904.7 1058.1,905.9 1061.2,907.2 1064.3,908.6 1067.4,910.0 1070.5,911.6 1073.5,913.3 1076.6,915.1 1079.7,917.0 1082.8,919.3 1085.9,921.8 1089.0,924.9 1090.0,926.1 1091.0,927.5 1092.0,929.0 1093.0,930.9 1094.0,933.4 1095.0,940.4 1094.0,947.4 1093.0,949.9 1092.0,951.8 1091.0,953.3 1090.0,954.7 1089.0,955.9 1085.9,959.0 1082.8,961.5 1079.7,963.8 1076.6,965.7 1073.5,967.5 1070.5,969.2 1067.4,970.8 1064.3,972.2 1061.2,973.6 1058.1,974.9 1055.0,976.1 1041.9,980.9 1028.8,985.0 1015.7,988.7 1002.6,992.1 989.5,995.1 976.4,997.9 963.3,1000.4 950.2,1002.7 937.1,1004.8 924.0,1006.7 910.9,1008.3 897.8,1009.7 884.7,1010.9 871.6,1012.0 858.4,1012.9 845.3,1013.6 832.2,1014.2 819.1,1014.7 806.0,1015.2 792.9,1015.5 779.8,1015.8 766.7,1016.0 753.6,1016.2 740.5,1016.4 727.4,1016.5 714.3,1016.7 701.2,1016.8 688.1,1016.8 675.0,1016.9Z" fill="url(#pl1)"/>
<path d="M1567.7,863.9 1554.6,864.0 1541.5,864.0 1528.4,864.1 1515.3,864.3 1502.2,864.4 1489.1,864.6 1476.0,864.8 1462.9,865.0 1449.8,865.3 1436.7,865.6 1423.6,866.1 1410.5,866.6 1397.4,867.2 1384.3,867.9 1371.1,868.8 1358.0,869.9 1344.9,871.1 1331.8,872.5 1318.7,874.1 1305.6,876.0 1292.5,878.1 1279.4,880.4 1266.3,882.9 1253.2,885.7 1240.1,888.7 1227.0,892.1 1213.9,895.8 1200.8,899.9 1187.7,904.7 1184.6,905.9 1181.5,907.2 1178.4,908.6 1175.3,910.0 1172.2,911.6 1169.2,913.3 1166.1,915.1 1163.0,917.0 1159.9,919.3 1156.8,921.8 1153.7,924.9 1152.7,926.1 1151.7,927.5 1150.7,929.0 1149.7,930.9 1148.7,933.4 1147.7,940.4 1148.7,947.4 1149.7,949.9 1150.7,951.8 1151.7,953.3 1152.7,954.7 1153.7,955.9 1156.8,959.0 1159.9,961.5 1163.0,963.8 1166.1,965.7 1169.2,967.5 1172.2,969.2 1175.3,970.8 1178.4,972.2 1181.5,973.6 1184.6,974.9 1187.7,976.1 1200.8,980.9 1213.9,985.0 1227.0,988.7 1240.1,992.1 1253.2,995.1 1266.3,997.9 1279.4,1000.4 1292.5,1002.7 1305.6,1004.8 1318.7,1006.7 1331.8,1008.3 1344.9,1009.7 1358.0,1010.9 1371.1,1012.0 1384.3,1012.9 1397.4,1013.6 1410.5,1014.2 1423.6,1014.7 1436.7,1015.2 1449.8,1015.5 1462.9,1015.8 1476.0,1016.0 1489.1,1016.2 1502.2,1016.4 1515.3,1016.5 1528.4,1016.7 1541.5,1016.8 1554.6,1016.8 1567.7,1016.9Z" fill="url(#pr1)"/>
</g>
<g clip-path="url(#cb2)"><g filter="url(#hb)">
<rect x="854.5" y="1022.0" width="552.0" height="208.0" fill="#0f0000"/>
<path fill-rule="evenodd" fill="#150000" d="M944,1058 946,1066 964,1096 974,1124 952,1172 942,1186 960,1200 1004,1228 1248,1228 1292,1200 1310,1186 1300,1172 1278,1124 1288,1096 1306,1066 1308,1058 1256,1022 996,1022Z"/>
<path fill-rule="evenodd" fill="#190000" d="M976,1064 996,1092 1012,1120 1012,1126 1002,1144 976,1180 1010,1198 1014,1198 1044,1212 1094,1228 1158,1228 1186,1220 1192,1216 1228,1204 1276,1180 1266,1168 1240,1126 1240,1120 1276,1064 1220,1038 1174,1022 1078,1022 1022,1042Z"/>
<path fill-rule="evenodd" fill="#1c0000" d="M996,1070 1016,1094 1034,1122 1024,1140 996,1176 998,1178 1036,1192 1042,1192 1050,1196 1074,1200 1084,1204 1106,1206 1108,1208 1144,1208 1146,1206 1158,1206 1160,1204 1168,1204 1178,1200 1202,1196 1210,1192 1216,1192 1234,1186 1256,1176 1238,1154 1218,1124 1236,1094 1256,1070 1246,1064 1204,1050 1198,1050 1180,1044 1172,1044 1170,1042 1162,1042 1160,1040 1150,1040 1148,1038 1104,1038 1102,1040 1072,1044 1070,1046 1048,1050 1040,1054 1034,1054 1006,1064Z"/>
<path fill-rule="evenodd" fill="#200000" d="M1010,1072 1048,1122 1010,1174 1052,1186 1062,1186 1076,1190 1092,1190 1094,1192 1116,1192 1118,1194 1176,1190 1178,1188 1200,1186 1242,1174 1204,1122 1224,1094 1242,1074 1242,1072 1202,1060 1182,1058 1180,1056 1146,1054 1144,1052 1108,1052 1106,1054 1088,1054 1086,1056 1072,1056 1070,1058 1050,1060Z"/>
<path fill-rule="evenodd" fill="#240000" d="M1020,1076 1040,1098 1056,1120 1056,1126 1046,1140 1020,1170 1038,1176 1046,1176 1048,1178 1078,1180 1080,1182 1172,1182 1174,1180 1204,1178 1232,1170 1196,1126 1196,1120 1212,1098 1232,1076 1230,1074 1210,1070 1208,1068 1182,1066 1180,1064 1072,1064 1070,1066 1044,1068Z"/>
<path fill-rule="evenodd" fill="#280000" d="M1028,1078 1050,1102 1064,1122 1056,1136 1028,1168 1042,1170 1044,1172 1054,1172 1056,1174 1196,1174 1198,1172 1208,1172 1210,1170 1224,1168 1204,1146 1188,1124 1194,1112 1224,1078 1220,1076 1202,1074 1200,1072 1186,1072 1184,1070 1156,1070 1154,1072 1068,1070 1066,1072 1052,1072 1050,1074 1040,1074Z"/>
<path fill-rule="evenodd" fill="#2c0000" d="M1036,1080 1054,1100 1070,1122 1060,1138 1036,1166 1054,1168 1056,1170 1094,1170 1096,1168 1110,1168 1112,1166 1140,1166 1142,1168 1156,1168 1158,1170 1196,1170 1198,1168 1216,1166 1182,1124 1190,1110 1216,1080 1212,1078 1202,1078 1200,1076 1154,1076 1152,1078 1138,1078 1136,1080 1116,1080 1114,1078 1100,1078 1098,1076 1052,1076 1050,1078 1040,1078Z"/>
<path fill-rule="evenodd" fill="#300000" d="M1042,1082 1060,1102 1074,1122 1066,1136 1042,1164 1050,1164 1052,1166 1092,1166 1094,1164 1102,1164 1114,1160 1138,1160 1140,1162 1148,1162 1160,1166 1200,1166 1202,1164 1210,1164 1178,1124 1180,1118 1192,1102 1210,1082 1190,1080 1188,1078 1158,1080 1156,1082 1148,1082 1136,1086 1116,1086 1114,1084 1106,1084 1094,1080 1080,1080 1078,1078 1064,1078 1062,1080Z"/>
<path fill-rule="evenodd" fill="#340000" d="M1048,1084 1070,1110 1076,1120 1076,1126 1048,1162 1056,1162 1058,1164 1082,1164 1084,1162 1102,1160 1116,1154 1136,1154 1150,1160 1168,1162 1170,1164 1194,1164 1196,1162 1204,1162 1176,1126 1178,1116 1204,1084 1198,1082 1166,1082 1164,1084 1148,1086 1134,1092 1118,1092 1104,1086 1088,1084 1086,1082 1054,1082Z"/>
<path fill-rule="evenodd" fill="#380000" d="M1052,1086 1062,1096 1078,1118 1078,1126 1074,1134 1052,1160 1062,1160 1064,1162 1090,1160 1120,1148 1132,1148 1162,1160 1176,1160 1178,1162 1200,1160 1184,1142 1174,1126 1174,1118 1190,1096 1200,1086 1196,1084 1160,1086 1130,1098 1122,1098 1092,1086 1082,1086 1080,1084 1056,1084Z"/>
<path fill-rule="evenodd" fill="#3c0000" d="M1058,1086 1058,1090 1078,1114 1080,1126 1072,1140 1056,1158 1086,1158 1100,1154 1122,1142 1130,1142 1152,1154 1166,1158 1196,1158 1186,1148 1172,1126 1174,1114 1194,1090 1194,1086 1162,1088 1150,1092 1130,1104 1122,1104 1110,1096 1090,1088Z"/>
<path fill-rule="evenodd" fill="#400000" d="M1060,1088 1072,1102 1082,1120 1082,1126 1076,1138 1060,1156 1070,1158 1072,1156 1094,1154 1106,1148 1124,1134 1128,1134 1140,1144 1158,1154 1180,1156 1182,1158 1192,1156 1176,1138 1170,1126 1172,1114 1192,1088 1174,1088 1172,1090 1164,1090 1152,1094 1130,1110 1122,1110 1104,1096 1088,1090Z"/>
<path fill-rule="evenodd" fill="#430000" d="M1146,1100 1132,1116 1132,1128 1136,1136 1144,1144 1158,1152 1174,1154 1176,1156 1188,1156 1170,1130 1170,1114 1188,1090 1172,1090 1152,1096ZM1064,1090 1082,1114 1082,1130 1064,1156 1076,1156 1078,1154 1094,1152 1108,1144 1116,1136 1120,1128 1120,1116 1116,1110 1100,1096 1080,1090Z"/>
<path fill-rule="evenodd" fill="#470000" d="M1150,1100 1138,1112 1136,1118 1136,1128 1140,1136 1150,1146 1158,1150 1172,1152 1174,1154 1186,1154 1178,1146 1168,1130 1168,1116 1184,1092 1170,1092ZM1068,1092 1084,1116 1084,1130 1074,1146 1066,1154 1088,1152 1102,1146 1112,1136 1116,1128 1114,1112 1102,1100 1090,1094Z"/>
<path fill-rule="evenodd" fill="#4b0000" d="M1182,1092 1180,1094 1168,1094 1156,1098 1150,1102 1140,1114 1138,1124 1144,1138 1162,1150 1182,1152 1172,1140 1166,1126 1168,1122 1166,1120 1168,1112ZM1070,1092 1084,1112 1086,1118 1084,1122 1086,1124 1084,1132 1076,1146 1070,1152 1090,1150 1108,1138 1114,1124 1110,1110 1096,1098 1084,1094 1072,1094Z"/>
<path fill-rule="evenodd" fill="#4f0000" d="M1174,1094 1152,1102 1144,1110 1140,1124 1146,1138 1156,1146 1168,1150 1178,1150 1180,1152 1168,1136 1166,1130 1166,1114 1174,1100 1180,1094ZM1078,1094 1072,1094 1078,1100 1086,1114 1086,1130 1084,1136 1072,1152 1074,1150 1084,1150 1102,1142 1106,1138 1112,1124 1108,1110 1100,1102Z"/>
<path fill-rule="evenodd" fill="#530000" d="M1170,1096 1152,1104 1146,1110 1142,1124 1144,1126 1144,1132 1150,1140 1164,1148 1178,1150 1168,1138 1164,1126 1166,1124 1164,1118 1166,1112 1176,1098 1176,1096ZM1082,1096 1076,1096 1076,1098 1086,1112 1088,1118 1086,1124 1088,1126 1084,1138 1074,1150 1088,1148 1102,1140 1108,1132 1108,1126 1110,1124 1106,1110 1094,1100Z"/>
<path fill-rule="evenodd" fill="#580000" d="M1176,1096 1174,1098 1166,1098 1154,1104 1144,1118 1144,1126 1148,1136 1158,1144 1174,1148 1164,1132 1164,1114 1170,1102ZM1076,1096 1082,1102 1088,1114 1088,1132 1078,1148 1094,1144 1104,1136 1108,1126 1108,1118 1098,1104 1086,1098 1078,1098Z"/>
<path fill-rule="evenodd" fill="#5c0000" d="M1172,1098 1156,1104 1146,1116 1148,1134 1154,1140 1166,1146 1172,1146 1164,1134 1164,1112ZM1080,1098 1088,1112 1088,1134 1080,1146 1092,1144 1104,1134 1106,1116 1096,1104Z"/>
<path fill-rule="evenodd" fill="#600000" d="M1158,1104 1148,1114 1146,1124 1150,1134 1156,1140 1170,1146 1162,1130 1162,1114 1170,1100ZM1082,1100 1090,1114 1090,1130 1082,1146 1096,1140 1102,1134 1106,1124 1104,1114 1094,1104Z"/>
<path fill-rule="evenodd" fill="#640000" d="M1164,1102 1152,1110 1148,1118 1148,1128 1160,1142 1168,1144 1162,1134 1162,1112 1168,1102ZM1088,1102 1084,1102 1090,1112 1090,1134 1084,1144 1092,1142 1104,1128 1104,1118 1100,1110Z"/>
<path fill-rule="evenodd" fill="#680000" d="M1166,1102 1158,1106 1150,1114 1150,1120 1148,1122 1152,1134 1162,1142 1166,1142 1162,1136 1162,1120 1160,1118ZM1086,1102 1092,1118 1090,1120 1090,1136 1086,1142 1090,1142 1100,1134 1104,1122 1102,1120 1102,1114 1094,1106Z"/>
<path fill-rule="evenodd" fill="#6c0000" d="M1164,1104 1156,1108 1150,1116 1150,1128 1160,1140 1166,1142 1160,1132 1160,1114ZM1088,1104 1092,1114 1092,1132 1086,1142 1092,1140 1102,1128 1102,1116 1096,1108Z"/>
<path fill-rule="evenodd" fill="#700000" d="M1162,1106 1152,1114 1150,1126 1154,1134 1164,1140 1160,1134 1160,1112ZM1090,1106 1092,1112 1092,1134 1088,1140 1094,1138 1102,1126 1100,1114Z"/>
<path fill-rule="evenodd" fill="#740000" d="M1162,1106 1154,1112 1150,1122 1152,1130 1160,1138 1162,1138 1160,1136 1160,1110ZM1090,1106 1092,1110 1092,1136 1090,1138 1092,1138 1100,1130 1102,1122 1098,1112Z"/>
<path fill-rule="evenodd" fill="#780000" d="M1160,1108 1152,1118 1152,1128 1158,1136 1160,1136 1158,1132 1158,1126 1160,1124 1158,1114ZM1092,1108 1094,1120 1092,1122 1094,1132 1092,1136 1094,1136 1100,1128 1100,1118Z"/>
<path fill-rule="evenodd" fill="#7c0000" d="M1158,1110 1152,1124 1154,1130 1160,1136 1158,1134 1158,1112 1160,1110ZM1094,1110 1092,1110 1094,1112 1094,1134 1092,1136 1098,1130 1100,1124Z"/>
<path fill-rule="evenodd" fill="#800000" d="M1158,1112 1152,1122 1154,1130 1158,1134ZM1094,1112 1094,1134 1100,1124 1098,1116Z"/>
<path fill-rule="evenodd" fill="#850000" d="M1158,1112 1152,1122 1158,1134 1158,1122 1156,1120ZM1094,1112 1096,1116 1094,1134 1100,1122Z"/>
</g>
<path d="M677.0,1046.2 690.1,1046.3 703.2,1046.3 716.3,1046.4 729.4,1046.6 742.5,1046.7 755.6,1046.9 768.7,1047.1 781.8,1047.3 794.9,1047.6 808.0,1047.9 821.1,1048.4 834.2,1048.9 847.3,1049.5 860.4,1050.2 873.6,1051.1 886.7,1052.2 899.8,1053.4 912.9,1054.8 926.0,1056.4 939.1,1058.3 952.2,1060.4 965.3,1062.7 978.4,1065.2 991.5,1068.0 1004.6,1071.0 1017.7,1074.4 1030.8,1078.1 1043.9,1082.2 1057.0,1087.0 1060.1,1088.2 1063.2,1089.5 1066.3,1090.9 1069.4,1092.3 1072.5,1093.9 1075.5,1095.6 1078.6,1097.4 1081.7,1099.3 1084.8,1101.6 1087.9,1104.1 1091.0,1107.2 1092.0,1108.4 1093.0,1109.8 1094.0,1111.3 1095.0,1113.2 1096.0,1115.7 1097.0,1122.7 1096.0,1129.7 1095.0,1132.2 1094.0,1134.1 1093.0,1135.6 1092.0,1137.0 1091.0,1138.2 1087.9,1141.3 1084.8,1143.8 1081.7,1146.1 1078.6,1148.0 1075.5,1149.8 1072.5,1151.5 1069.4,1153.1 1066.3,1154.5 1063.2,1155.9 1060.1,1157.2 1057.0,1158.4 1043.9,1163.2 1030.8,1167.3 1017.7,1171.0 1004.6,1174.4 991.5,1177.4 978.4,1180.2 965.3,1182.7 952.2,1185.0 939.1,1187.1 926.0,1189.0 912.9,1190.6 899.8,1192.0 886.7,1193.2 873.6,1194.3 860.4,1195.2 847.3,1195.9 834.2,1196.5 821.1,1197.0 808.0,1197.5 794.9,1197.8 781.8,1198.1 768.7,1198.3 755.6,1198.5 742.5,1198.7 729.4,1198.8 716.3,1199.0 703.2,1199.1 690.1,1199.1 677.0,1199.2Z" fill="url(#pl2)"/>
<path d="M1576.0,1046.2 1562.9,1046.3 1549.8,1046.3 1536.7,1046.4 1523.6,1046.6 1510.5,1046.7 1497.4,1046.9 1484.3,1047.1 1471.2,1047.3 1458.1,1047.6 1445.0,1047.9 1431.9,1048.4 1418.8,1048.9 1405.7,1049.5 1392.6,1050.2 1379.4,1051.1 1366.3,1052.2 1353.2,1053.4 1340.1,1054.8 1327.0,1056.4 1313.9,1058.3 1300.8,1060.4 1287.7,1062.7 1274.6,1065.2 1261.5,1068.0 1248.4,1071.0 1235.3,1074.4 1222.2,1078.1 1209.1,1082.2 1196.0,1087.0 1192.9,1088.2 1189.8,1089.5 1186.7,1090.9 1183.6,1092.3 1180.5,1093.9 1177.5,1095.6 1174.4,1097.4 1171.3,1099.3 1168.2,1101.6 1165.1,1104.1 1162.0,1107.2 1161.0,1108.4 1160.0,1109.8 1159.0,1111.3 1158.0,1113.2 1157.0,1115.7 1156.0,1122.7 1157.0,1129.7 1158.0,1132.2 1159.0,1134.1 1160.0,1135.6 1161.0,1137.0 1162.0,1138.2 1165.1,1141.3 1168.2,1143.8 1171.3,1146.1 1174.4,1148.0 1177.5,1149.8 1180.5,1151.5 1183.6,1153.1 1186.7,1154.5 1189.8,1155.9 1192.9,1157.2 1196.0,1158.4 1209.1,1163.2 1222.2,1167.3 1235.3,1171.0 1248.4,1174.4 1261.5,1177.4 1274.6,1180.2 1287.7,1182.7 1300.8,1185.0 1313.9,1187.1 1327.0,1189.0 1340.1,1190.6 1353.2,1192.0 1366.3,1193.2 1379.4,1194.3 1392.6,1195.2 1405.7,1195.9 1418.8,1196.5 1431.9,1197.0 1445.0,1197.5 1458.1,1197.8 1471.2,1198.1 1484.3,1198.3 1497.4,1198.5 1510.5,1198.7 1523.6,1198.8 1536.7,1199.0 1549.8,1199.1 1562.9,1199.1 1576.0,1199.2Z" fill="url(#pr2)"/>
</g>
<rect x="862.5" y="844" width="535.5" height="2" fill="#000"/>
<rect x="862.5" y="1028.6" width="535.5" height="1.8" fill="#000"/>
<text x="879.9" y="690.7" font-family='"Liberation Serif", serif' font-size="41" font-weight="bold" fill="#fff" stroke="#fff" stroke-width="0.9" textLength="100.3" lengthAdjust="spacingAndGlyphs"><tspan font-style="italic">k</tspan> = 0</text>
<text x="884.4" y="893.4" font-family='"Liberation Serif", serif' font-size="41" font-weight="bold" fill="#fff" stroke="#fff" stroke-width="0.9" textLength="190.9" lengthAdjust="spacingAndGlyphs"><tspan font-style="italic">k</tspan> = 0.086</text>
<text x="883.5" y="1076.4" font-family='"Liberation Serif", serif' font-size="41" font-weight="bold" fill="#fff" stroke="#fff" stroke-width="0.9" textLength="167.6" lengthAdjust="spacingAndGlyphs"><tspan font-style="italic">k</tspan> = 0.18</text>
<defs><linearGradient id="cbar" x1="0" y1="1" x2="0" y2="0">
<stop offset="0" stop-color="#0a0000"/><stop offset="0.21" stop-color="#960000"/><stop offset="0.29" stop-color="#ff0000"/>
<stop offset="0.43" stop-color="#ff7800"/><stop offset="0.55" stop-color="#ffbe00"/><stop offset="0.69" stop-color="#ffff00"/>
<stop offset="1" stop-color="#fffff5"/></linearGradient></defs>
<rect x="1431.3" y="713.5" width="29" height="446.7" fill="url(#cbar)" stroke="#555" stroke-width="1.5"/>
<line x1="1431.3" y1="791.7" x2="1435.5" y2="791.7" stroke="#333" stroke-width="1.5" />
<line x1="1456.1" y1="791.7" x2="1460.3" y2="791.7" stroke="#333" stroke-width="1.5" />
<line x1="1431.3" y1="883.3" x2="1435.5" y2="883.3" stroke="#333" stroke-width="1.5" />
<line x1="1456.1" y1="883.3" x2="1460.3" y2="883.3" stroke="#333" stroke-width="1.5" />
<line x1="1431.3" y1="976.2" x2="1435.5" y2="976.2" stroke="#333" stroke-width="1.5" />
<line x1="1456.1" y1="976.2" x2="1460.3" y2="976.2" stroke="#333" stroke-width="1.5" />
<line x1="1431.3" y1="1067.3" x2="1435.5" y2="1067.3" stroke="#333" stroke-width="1.5" />
<line x1="1456.1" y1="1067.3" x2="1460.3" y2="1067.3" stroke="#333" stroke-width="1.5" />
<text x="1414.1" y="700.7" font-family='"Liberation Serif", serif' font-size="36" font-weight="bold" font-style="normal" fill="#000" text-anchor="start" textLength="70.5" lengthAdjust="spacingAndGlyphs" >Max</text>
<text x="1417.4" y="1195.4" font-family='"Liberation Serif", serif' font-size="36" font-weight="bold" font-style="normal" fill="#000" text-anchor="start" textLength="63.7" lengthAdjust="spacingAndGlyphs" >Min</text>
</svg></body></html>
